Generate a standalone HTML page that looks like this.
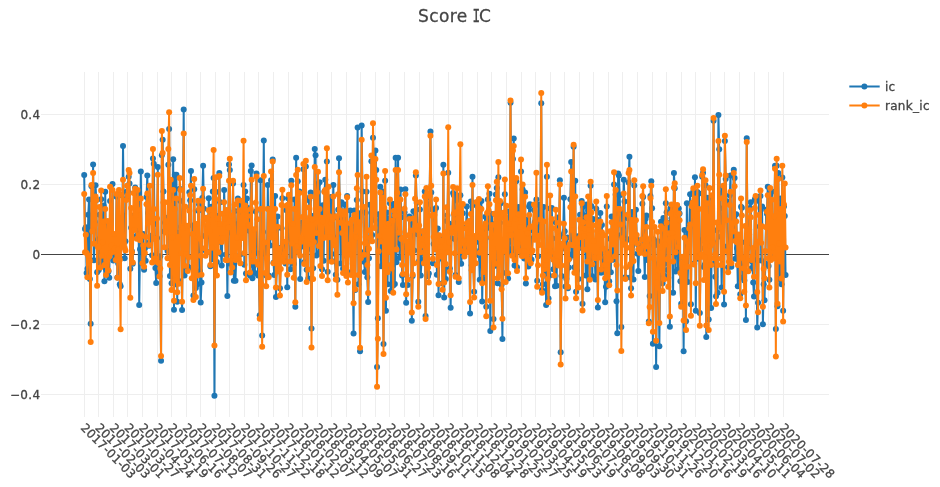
<!DOCTYPE html>
<html lang="en">
<head>
<meta charset="utf-8">
<title>Score IC</title>
<style>
html,body{margin:0;padding:0;background:#fff;}
body{width:940px;height:487px;overflow:hidden;}
svg{display:block;}
text{font-family:"DejaVu Sans", "Liberation Sans", sans-serif;fill:#444;stroke:#444;stroke-width:0.3px;}
.g line{stroke:#eee;stroke-width:1;shape-rendering:crispEdges;}
.z{stroke:#444;stroke-width:1;shape-rendering:crispEdges;}
.l{fill:none;stroke-width:2;stroke-linejoin:round;}
.xt text{font-size:12px;letter-spacing:0.22px;}
.yt text{font-size:12px;text-anchor:end;letter-spacing:0.36px;}
.lg text{font-size:12px;letter-spacing:0.32px;}
.ti{font-size:17px;letter-spacing:0.42px;}
.ser{font-family:"DejaVu Sans Mono", "Liberation Mono", monospace;letter-spacing:0;}
</style>
</head>
<body>
<svg width="940" height="487" viewBox="0 0 940 487">
<rect width="940" height="487" fill="#fff"/>
<g class="g">
<line x1="84.5" x2="84.5" y1="72" y2="417"/>
<line x1="98.5" x2="98.5" y1="72" y2="417"/>
<line x1="113.5" x2="113.5" y1="72" y2="417"/>
<line x1="127.5" x2="127.5" y1="72" y2="417"/>
<line x1="142.5" x2="142.5" y1="72" y2="417"/>
<line x1="157.5" x2="157.5" y1="72" y2="417"/>
<line x1="171.5" x2="171.5" y1="72" y2="417"/>
<line x1="186.5" x2="186.5" y1="72" y2="417"/>
<line x1="200.5" x2="200.5" y1="72" y2="417"/>
<line x1="215.5" x2="215.5" y1="72" y2="417"/>
<line x1="229.5" x2="229.5" y1="72" y2="417"/>
<line x1="244.5" x2="244.5" y1="72" y2="417"/>
<line x1="258.5" x2="258.5" y1="72" y2="417"/>
<line x1="273.5" x2="273.5" y1="72" y2="417"/>
<line x1="288.5" x2="288.5" y1="72" y2="417"/>
<line x1="302.5" x2="302.5" y1="72" y2="417"/>
<line x1="317.5" x2="317.5" y1="72" y2="417"/>
<line x1="331.5" x2="331.5" y1="72" y2="417"/>
<line x1="346.5" x2="346.5" y1="72" y2="417"/>
<line x1="360.5" x2="360.5" y1="72" y2="417"/>
<line x1="375.5" x2="375.5" y1="72" y2="417"/>
<line x1="389.5" x2="389.5" y1="72" y2="417"/>
<line x1="404.5" x2="404.5" y1="72" y2="417"/>
<line x1="419.5" x2="419.5" y1="72" y2="417"/>
<line x1="433.5" x2="433.5" y1="72" y2="417"/>
<line x1="448.5" x2="448.5" y1="72" y2="417"/>
<line x1="462.5" x2="462.5" y1="72" y2="417"/>
<line x1="477.5" x2="477.5" y1="72" y2="417"/>
<line x1="491.5" x2="491.5" y1="72" y2="417"/>
<line x1="506.5" x2="506.5" y1="72" y2="417"/>
<line x1="521.5" x2="521.5" y1="72" y2="417"/>
<line x1="535.5" x2="535.5" y1="72" y2="417"/>
<line x1="550.5" x2="550.5" y1="72" y2="417"/>
<line x1="564.5" x2="564.5" y1="72" y2="417"/>
<line x1="579.5" x2="579.5" y1="72" y2="417"/>
<line x1="593.5" x2="593.5" y1="72" y2="417"/>
<line x1="608.5" x2="608.5" y1="72" y2="417"/>
<line x1="622.5" x2="622.5" y1="72" y2="417"/>
<line x1="637.5" x2="637.5" y1="72" y2="417"/>
<line x1="652.5" x2="652.5" y1="72" y2="417"/>
<line x1="666.5" x2="666.5" y1="72" y2="417"/>
<line x1="681.5" x2="681.5" y1="72" y2="417"/>
<line x1="695.5" x2="695.5" y1="72" y2="417"/>
<line x1="710.5" x2="710.5" y1="72" y2="417"/>
<line x1="724.5" x2="724.5" y1="72" y2="417"/>
<line x1="739.5" x2="739.5" y1="72" y2="417"/>
<line x1="754.5" x2="754.5" y1="72" y2="417"/>
<line x1="768.5" x2="768.5" y1="72" y2="417"/>
<line x1="783.5" x2="783.5" y1="72" y2="417"/>
<line x1="41" x2="829" y1="114.5" y2="114.5"/>
<line x1="41" x2="829" y1="184.5" y2="184.5"/>
<line x1="41" x2="829" y1="324.5" y2="324.5"/>
<line x1="41" x2="829" y1="394.5" y2="394.5"/>
</g>
<line class="z" x1="41" x2="829" y1="254.5" y2="254.5"/>
<g class="trace">
<path class="l" stroke="#1f77b4" d="M84.2,175.05L85.01,228.89L85.82,227.34L86.63,273.04L87.44,268.72L88.24,214.74L89.05,199.41L89.86,278.95L90.67,323.81L91.48,186.33L92.29,226.65L93.1,164.46L93.91,260.25L94.72,221.97L95.53,185.27L96.33,200.01L97.14,272.19L97.95,239.49L98.76,270.08L99.57,214.77L100.38,250.95L101.19,199.26L102,263.34L102.81,252.74L103.61,205.41L104.42,281.22L105.23,191.74L106.04,269.18L106.85,271.58L107.66,223.46L108.47,271.58L109.28,277.81L110.09,201.12L110.9,239.56L111.7,253.02L112.51,184.08L113.32,260.52L114.13,241.15L114.94,250.56L115.75,256.38L116.56,196.86L117.37,277.47L118.18,263.41L118.98,195.57L119.79,284.25L120.6,286.33L121.41,229.51L122.22,238.46L123.03,145.89L123.84,215.76L124.65,258.23L125.46,241.31L126.27,191.89L127.07,198.44L127.88,191.5L128.69,176.82L129.5,183.6L130.31,268.78L131.12,227.73L131.93,251.37L132.74,263.64L133.55,215.86L134.35,228L135.16,187.48L135.97,221.27L136.78,235.83L137.59,199.19L138.4,193.54L139.21,304.9L140.02,249.19L140.83,171.44L141.64,247.12L142.44,263.24L143.25,234.12L144.06,269.63L144.87,248.56L145.68,260.78L146.49,196.95L147.3,175.56L148.11,213.16L148.92,245.86L149.72,242.04L150.53,235.66L151.34,239.09L152.15,255.16L152.96,158.5L153.77,163.78L154.58,223.92L155.39,267.93L156.2,282.92L157,238.06L157.81,167.01L158.62,271.21L159.43,275.99L160.24,256.26L161.05,360.81L161.86,155.26L162.67,139.75L163.48,191.5L164.29,231.5L165.09,222.49L165.9,217.65L166.71,226.69L167.52,250.97L168.33,164.63L169.14,129.02L169.95,275.94L170.76,179.96L171.57,283.17L172.37,256.27L173.18,159.35L173.99,309.67L174.8,174.7L175.61,284.25L176.42,174.7L177.23,301.66L178.04,232.85L178.85,281.02L179.66,188.71L180.46,200.99L181.27,226.79L182.08,310.01L182.89,220.7L183.7,109.42L184.51,275.5L185.32,229.11L186.13,238.06L186.94,236.37L187.74,266.74L188.55,267.5L189.36,192.18L190.17,200.59L190.98,170.93L191.79,267.81L192.6,225.51L193.41,295.53L194.22,189.19L195.03,246.59L195.83,287.98L196.64,238.09L197.45,284.25L198.26,210.75L199.07,204.52L199.88,271.24L200.69,302.52L201.5,282.41L202.31,198.02L203.11,165.82L203.92,208.78L204.73,235.89L205.54,250.56L206.35,234.45L207.16,252.17L207.97,226.47L208.78,198.22L209.59,235.9L210.4,266.22L211.2,206.7L212.01,259.25L212.82,191.5L213.63,178.11L214.44,395.74L215.25,191.5L216.06,191.92L216.87,261.9L217.68,215.99L218.48,241.96L219.29,172.98L220.1,202.25L220.91,253.97L221.72,265.55L222.53,226.73L223.34,234.22L224.15,190.04L224.96,219.49L225.77,254.78L226.57,225.34L227.38,296.04L228.19,230.31L229,164.46L229.81,170.03L230.62,264.02L231.43,232.33L232.24,233.81L233.05,183.53L233.85,280.71L234.66,210.89L235.47,280.71L236.28,256.43L237.09,224.26L237.9,198.56L238.71,245.17L239.52,204.1L240.33,254.54L241.14,235.76L241.94,201.49L242.75,220.4L243.56,184.93L244.37,264.78L245.18,191.5L245.99,273.55L246.8,198.5L247.61,207.93L248.42,213.4L249.22,230.83L250.03,275.5L250.84,170.93L251.65,165.48L252.46,278.15L253.27,265.32L254.08,240.66L254.89,273.04L255.7,211.39L256.51,173.49L257.31,253.13L258.12,275.44L258.93,273.62L259.74,315.29L260.55,180.16L261.36,284.25L262.17,335.57L262.98,231.94L263.79,140.6L264.59,253.73L265.4,245.31L266.21,275.42L267.02,254.11L267.83,184.93L268.64,275.5L269.45,208.76L270.26,245.45L271.07,180.14L271.88,220.45L272.68,159.52L273.49,262.63L274.3,274.91L275.11,196L275.92,296.89L276.73,268.78L277.54,216.45L278.35,247.91L279.16,248.32L279.96,288.19L280.77,256.27L281.58,228.35L282.39,198.23L283.2,244.79L284.01,249.94L284.82,244.03L285.63,263.55L286.44,210.23L287.25,287.18L288.05,198.31L288.86,197.71L289.67,234.89L290.48,269.29L291.29,180.67L292.1,255.67L292.91,232.73L293.72,264.06L294.53,199.41L295.33,306.78L296.14,157.64L296.95,234.81L297.76,181.29L298.57,252.17L299.38,191.5L300.19,279L301,246.78L301.81,227.85L302.62,222.56L303.42,169.18L304.23,262.2L305.04,196.97L305.85,166.62L306.66,269.63L307.47,227.54L308.28,278.57L309.09,200.35L309.9,248.87L310.7,192.59L311.51,328.41L312.32,215.93L313.13,268.27L313.94,237.55L314.75,148.95L315.56,155.26L316.37,255.43L317.18,191.78L317.98,183.99L318.79,253.11L319.6,182.37L320.41,253.95L321.22,211.34L322.03,269.29L322.84,205.37L323.65,260.86L324.46,191.5L325.27,179.82L326.07,236.27L326.88,161.56L327.69,271.86L328.5,201.96L329.31,224.46L330.12,258.13L330.93,196.88L331.74,254.05L332.55,213.29L333.35,184.93L334.16,237.42L334.97,261.34L335.78,274.72L336.59,217.12L337.4,279.85L338.21,209.66L339.02,158.33L339.83,215.26L340.64,263.39L341.44,202.28L342.25,218.9L343.06,268.86L343.87,214.84L344.68,204.52L345.49,240.45L346.3,255.95L347.11,196L347.92,274.44L348.72,241.24L349.53,226.76L350.34,210.49L351.15,272L351.96,229.38L352.77,263.65L353.58,333.53L354.39,210.4L355.2,290.08L356.01,225.46L356.81,199.92L357.62,127.49L358.43,284.25L359.24,213.19L360.05,351.27L360.86,251.92L361.67,125.44L362.48,191.5L363.29,210.41L364.09,261.63L364.9,272.1L365.71,212.81L366.52,191.74L367.33,277.3L368.14,302L368.95,258.37L369.76,204.72L370.57,237.69L371.38,161.22L372.18,234.9L372.99,137.71L373.8,172.58L374.61,220.01L375.42,150.49L376.23,170.08L377.04,367.11L377.85,318.36L378.66,214.32L379.46,251.42L380.27,186.63L381.08,266.23L381.89,211.61L382.7,191.5L383.51,344.11L384.32,210.41L385.13,180.67L385.94,310.86L386.75,212.57L387.55,284.25L388.36,218.15L389.17,240.26L389.98,203.16L390.79,290.93L391.6,284.25L392.41,203.78L393.22,285.46L394.03,207.93L394.83,284.11L395.64,157.64L396.45,262.17L397.26,204.31L398.07,157.64L398.88,242.86L399.69,257.7L400.5,189.53L401.31,217.34L402.12,275.59L402.92,284.97L403.73,246.76L404.54,212.19L405.35,189.19L406.16,302.86L406.97,242L407.78,284.97L408.59,247.39L409.4,216.45L410.2,242.55L411.01,222.75L411.82,320.75L412.63,276L413.44,211.35L414.25,250.59L415.06,219.62L415.87,175.56L416.68,202.67L417.49,234.23L418.29,301.66L419.1,260.99L419.91,209.38L420.72,275.5L421.53,260.53L422.34,231.6L423.15,242.98L423.96,259.82L424.77,191.5L425.57,315.98L426.38,198.23L427.19,203.97L428,276.18L428.81,273.58L429.62,195.92L430.43,131.4L431.24,192.54L432.05,209.36L432.86,263.34L433.66,243.97L434.47,211.84L435.28,236.82L436.09,207.93L436.9,274.74L437.71,228.38L438.52,295.19L439.33,253.83L440.14,237.7L440.94,256.49L441.75,258.66L442.56,283.28L443.37,164.63L444.18,297.4L444.99,236.25L445.8,278.91L446.61,221.05L447.42,215.36L448.23,172.64L449.03,223.48L449.84,268.61L450.65,307.63L451.46,238.24L452.27,228.04L453.08,193.11L453.89,195.15L454.7,239.02L455.51,275.06L456.31,200.52L457.12,197.21L457.93,212.17L458.74,281.9L459.55,216.33L460.36,195.15L461.17,263.84L461.98,253.02L462.79,213.32L463.59,253.02L464.4,246.18L465.21,250L466.02,227.61L466.83,206.57L467.64,239.8L468.45,239.74L469.26,232.84L470.07,313.42L470.88,201.62L471.68,265.19L472.49,176.75L473.3,263.87L474.11,291.78L474.92,250.25L475.73,253.99L476.54,205.54L477.35,241.83L478.16,202.4L478.96,255.33L479.77,279.76L480.58,208.47L481.39,201.11L482.2,301.49L483.01,249.82L483.82,279.76L484.63,233.14L485.44,216.71L486.25,306.78L487.05,219.84L487.86,199.52L488.67,227.72L489.48,193.79L490.29,330.97L491.1,238.04L491.91,213.89L492.72,247.45L493.53,319.04L494.33,224.08L495.14,265.63L495.95,194.44L496.76,187.99L497.57,283.26L498.38,177.26L499.19,260.86L500,222.74L500.81,203.22L501.62,284.77L502.42,338.98L503.23,239.64L504.04,248.51L504.85,194.3L505.66,273.04L506.47,221.52L507.28,218.15L508.09,278.4L508.9,211.58L509.7,252.17L510.51,102.78L511.32,237.9L512.13,248.82L512.94,159.01L513.75,138.56L514.56,265.55L515.37,250.79L516.18,181.22L516.99,267.37L517.79,227.81L518.6,206.91L519.41,232L520.22,247.69L521.03,171.44L521.84,252.12L522.65,189.41L523.46,253.08L524.27,258.5L525.07,192.59L525.88,283.6L526.69,219.97L527.5,219.45L528.31,266.56L529.12,206.57L529.93,204.19L530.74,259.3L531.55,259.84L532.36,238.85L533.16,230.42L533.97,209.89L534.78,222.35L535.59,236.39L536.4,199.41L537.21,280.71L538.02,256.24L538.83,204.85L539.64,226.91L540.44,206.23L541.25,103.29L542.06,289.92L542.87,284.25L543.68,206.89L544.49,275.5L545.3,254.83L546.11,305.07L546.92,176.75L547.73,272.44L548.53,298.55L549.34,275.64L550.15,208.42L550.96,254.24L551.77,207.93L552.58,238.5L553.39,269.34L554.2,259.02L555.01,286.33L555.81,222.41L556.62,285.82L557.43,217.39L558.24,243.63L559.05,233.67L559.86,180.16L560.67,352.29L561.48,275.91L562.29,248.55L563.1,236.79L563.9,197.71L564.71,231.2L565.52,286.46L566.33,278.81L567.14,237.41L567.95,288.37L568.76,267.59L569.57,258.23L570.38,199.22L571.18,162.07L571.99,254.24L572.8,255.34L573.61,146.74L574.42,267.17L575.23,180.67L576.04,291.78L576.85,270.46L577.66,236.18L578.47,279.1L579.27,245.17L580.08,214.69L580.89,247.83L581.7,201.11L582.51,303.78L583.32,206.83L584.13,215.5L584.94,232.12L585.75,275.5L586.55,204.52L587.36,289.23L588.17,210.52L588.98,218.4L589.79,278.4L590.6,185.78L591.41,206.23L592.22,276.35L593.03,218.92L593.84,256.92L594.64,251.2L595.45,279.49L596.26,208.82L597.07,219.75L597.88,307.46L598.69,225.06L599.5,255.01L600.31,213.04L601.12,272.78L601.92,225.06L602.73,271.82L603.54,267.58L604.35,258.13L605.16,302.35L605.97,286.67L606.78,206.4L607.59,281.81L608.4,252.03L609.2,281.13L610.01,238.84L610.82,272.19L611.63,216.39L612.44,237.75L613.25,259.69L614.06,184.59L614.87,215.91L615.68,194.61L616.49,301.15L617.29,333.19L618.1,173.49L618.91,175.56L619.72,195.15L620.53,235.13L621.34,327.05L622.15,212.7L622.96,227.28L623.77,179.82L624.57,201.43L625.38,277.16L626.19,240.55L627,239.12L627.81,218.19L628.62,182.61L629.43,156.79L630.24,277.6L631.05,288.35L631.86,211.94L632.66,245.46L633.47,279.51L634.28,185.48L635.09,234.65L635.9,209.63L636.71,238.81L637.52,253.62L638.33,271L639.14,249.61L639.94,245.38L640.75,249.61L641.56,249.61L642.37,203.67L643.18,196.89L643.99,250.47L644.8,276.97L645.61,218.65L646.42,215.6L647.23,259.88L648.03,242.42L648.84,321.39L649.65,295.91L650.46,196L651.27,181.18L652.08,208.36L652.89,343.77L653.7,239.31L654.51,245.41L655.31,265.94L656.12,367.11L656.93,284.25L657.74,241.15L658.55,264.11L659.36,346.16L660.17,254.61L660.98,221.75L661.79,267.26L662.6,283.13L663.4,217.95L664.21,275.24L665.02,263.21L665.83,203.33L666.64,212.22L667.45,269.96L668.26,277.63L669.07,222.86L669.88,326.71L670.68,208.02L671.49,218.23L672.3,214.64L673.11,292.63L673.92,172.98L674.73,188.24L675.54,271.4L676.35,220.91L677.16,209.47L677.97,269.54L678.77,208.53L679.58,213.55L680.39,281.22L681.2,303.84L682.01,280.98L682.82,256.88L683.63,351.27L684.44,229.93L685.25,261.74L686.05,321.13L686.86,203.33L687.67,281.91L688.48,241.61L689.29,227.96L690.1,194.3L690.91,304.23L691.72,203.79L692.53,204.26L693.34,191.26L694.14,263.51L694.95,177.26L695.76,310.86L696.57,231.89L697.38,192.05L698.19,258.85L699,193.45L699.81,313.08L700.62,248.13L701.42,240.2L702.23,176.71L703.04,172.83L703.85,267.02L704.66,264.67L705.47,185.34L706.28,336.93L707.09,197.86L707.9,240.55L708.71,319.38L709.51,197.67L710.32,236.12L711.13,307.97L711.94,196.91L712.75,241.78L713.56,120.67L714.37,263.73L715.18,276.83L715.99,296.16L716.79,230.35L717.6,292.63L718.41,115.05L719.22,149.29L720.03,208.19L720.84,236.84L721.65,287.52L722.46,192.82L723.27,187.93L724.08,304.56L724.88,141.12L725.69,178.95L726.5,201.22L727.31,246.15L728.12,267.35L728.93,253.05L729.74,195.24L730.55,175.56L731.36,266.74L732.16,224.85L732.97,236.43L733.78,169.74L734.59,178.11L735.4,258.67L736.21,214.26L737.02,248.24L737.83,286.33L738.64,258.89L739.45,250.99L740.25,294.34L741.06,206.65L741.87,207.72L742.68,277.46L743.49,266.87L744.3,280.58L745.11,242.23L745.92,319.9L746.73,138.22L747.53,246.89L748.34,260.61L749.15,229.85L749.96,207.93L750.77,202.31L751.58,268.13L752.39,261.43L753.2,282.41L754.01,296.38L754.81,199.5L755.62,197.64L756.43,259.45L757.24,327.56L758.05,302.69L758.86,201.12L759.67,226.57L760.48,196L761.29,260.54L762.1,206.45L762.9,324.15L763.71,284.25L764.52,300.3L765.33,263.51L766.14,209.63L766.95,213.87L767.76,186.63L768.57,266.09L769.38,279.85L770.18,194.3L770.99,242.49L771.8,191.5L772.61,254.38L773.42,255.43L774.23,228.19L775.04,165.82L775.85,328.93L776.66,165.77L777.47,306.26L778.27,172.98L779.08,238.26L779.89,279L780.7,198.56L781.51,284.25L782.32,177.58L783.13,310.86L783.94,206.45L784.75,216.11L785.55,275.01"/>
<g fill="#1f77b4">
<circle cx="84.2" cy="175.05" r="3"/><circle cx="85.01" cy="228.89" r="3"/><circle cx="85.82" cy="227.34" r="3"/><circle cx="86.63" cy="273.04" r="3"/><circle cx="87.44" cy="268.72" r="3"/><circle cx="88.24" cy="214.74" r="3"/><circle cx="89.05" cy="199.41" r="3"/><circle cx="89.86" cy="278.95" r="3"/>
<circle cx="90.67" cy="323.81" r="3"/><circle cx="91.48" cy="186.33" r="3"/><circle cx="92.29" cy="226.65" r="3"/><circle cx="93.1" cy="164.46" r="3"/><circle cx="93.91" cy="260.25" r="3"/><circle cx="94.72" cy="221.97" r="3"/><circle cx="95.53" cy="185.27" r="3"/><circle cx="96.33" cy="200.01" r="3"/>
<circle cx="97.14" cy="272.19" r="3"/><circle cx="97.95" cy="239.49" r="3"/><circle cx="98.76" cy="270.08" r="3"/><circle cx="99.57" cy="214.77" r="3"/><circle cx="100.38" cy="250.95" r="3"/><circle cx="101.19" cy="199.26" r="3"/><circle cx="102" cy="263.34" r="3"/><circle cx="102.81" cy="252.74" r="3"/>
<circle cx="103.61" cy="205.41" r="3"/><circle cx="104.42" cy="281.22" r="3"/><circle cx="105.23" cy="191.74" r="3"/><circle cx="106.04" cy="269.18" r="3"/><circle cx="106.85" cy="271.58" r="3"/><circle cx="107.66" cy="223.46" r="3"/><circle cx="108.47" cy="271.58" r="3"/><circle cx="109.28" cy="277.81" r="3"/>
<circle cx="110.09" cy="201.12" r="3"/><circle cx="110.9" cy="239.56" r="3"/><circle cx="111.7" cy="253.02" r="3"/><circle cx="112.51" cy="184.08" r="3"/><circle cx="113.32" cy="260.52" r="3"/><circle cx="114.13" cy="241.15" r="3"/><circle cx="114.94" cy="250.56" r="3"/><circle cx="115.75" cy="256.38" r="3"/>
<circle cx="116.56" cy="196.86" r="3"/><circle cx="117.37" cy="277.47" r="3"/><circle cx="118.18" cy="263.41" r="3"/><circle cx="118.98" cy="195.57" r="3"/><circle cx="119.79" cy="284.25" r="3"/><circle cx="120.6" cy="286.33" r="3"/><circle cx="121.41" cy="229.51" r="3"/><circle cx="122.22" cy="238.46" r="3"/>
<circle cx="123.03" cy="145.89" r="3"/><circle cx="123.84" cy="215.76" r="3"/><circle cx="124.65" cy="258.23" r="3"/><circle cx="125.46" cy="241.31" r="3"/><circle cx="126.27" cy="191.89" r="3"/><circle cx="127.07" cy="198.44" r="3"/><circle cx="127.88" cy="191.5" r="3"/><circle cx="128.69" cy="176.82" r="3"/>
<circle cx="129.5" cy="183.6" r="3"/><circle cx="130.31" cy="268.78" r="3"/><circle cx="131.12" cy="227.73" r="3"/><circle cx="131.93" cy="251.37" r="3"/><circle cx="132.74" cy="263.64" r="3"/><circle cx="133.55" cy="215.86" r="3"/><circle cx="134.35" cy="228" r="3"/><circle cx="135.16" cy="187.48" r="3"/>
<circle cx="135.97" cy="221.27" r="3"/><circle cx="136.78" cy="235.83" r="3"/><circle cx="137.59" cy="199.19" r="3"/><circle cx="138.4" cy="193.54" r="3"/><circle cx="139.21" cy="304.9" r="3"/><circle cx="140.02" cy="249.19" r="3"/><circle cx="140.83" cy="171.44" r="3"/><circle cx="141.64" cy="247.12" r="3"/>
<circle cx="142.44" cy="263.24" r="3"/><circle cx="143.25" cy="234.12" r="3"/><circle cx="144.06" cy="269.63" r="3"/><circle cx="144.87" cy="248.56" r="3"/><circle cx="145.68" cy="260.78" r="3"/><circle cx="146.49" cy="196.95" r="3"/><circle cx="147.3" cy="175.56" r="3"/><circle cx="148.11" cy="213.16" r="3"/>
<circle cx="148.92" cy="245.86" r="3"/><circle cx="149.72" cy="242.04" r="3"/><circle cx="150.53" cy="235.66" r="3"/><circle cx="151.34" cy="239.09" r="3"/><circle cx="152.15" cy="255.16" r="3"/><circle cx="152.96" cy="158.5" r="3"/><circle cx="153.77" cy="163.78" r="3"/><circle cx="154.58" cy="223.92" r="3"/>
<circle cx="155.39" cy="267.93" r="3"/><circle cx="156.2" cy="282.92" r="3"/><circle cx="157" cy="238.06" r="3"/><circle cx="157.81" cy="167.01" r="3"/><circle cx="158.62" cy="271.21" r="3"/><circle cx="159.43" cy="275.99" r="3"/><circle cx="160.24" cy="256.26" r="3"/><circle cx="161.05" cy="360.81" r="3"/>
<circle cx="161.86" cy="155.26" r="3"/><circle cx="162.67" cy="139.75" r="3"/><circle cx="163.48" cy="191.5" r="3"/><circle cx="164.29" cy="231.5" r="3"/><circle cx="165.09" cy="222.49" r="3"/><circle cx="165.9" cy="217.65" r="3"/><circle cx="166.71" cy="226.69" r="3"/><circle cx="167.52" cy="250.97" r="3"/>
<circle cx="168.33" cy="164.63" r="3"/><circle cx="169.14" cy="129.02" r="3"/><circle cx="169.95" cy="275.94" r="3"/><circle cx="170.76" cy="179.96" r="3"/><circle cx="171.57" cy="283.17" r="3"/><circle cx="172.37" cy="256.27" r="3"/><circle cx="173.18" cy="159.35" r="3"/><circle cx="173.99" cy="309.67" r="3"/>
<circle cx="174.8" cy="174.7" r="3"/><circle cx="175.61" cy="284.25" r="3"/><circle cx="176.42" cy="174.7" r="3"/><circle cx="177.23" cy="301.66" r="3"/><circle cx="178.04" cy="232.85" r="3"/><circle cx="178.85" cy="281.02" r="3"/><circle cx="179.66" cy="188.71" r="3"/><circle cx="180.46" cy="200.99" r="3"/>
<circle cx="181.27" cy="226.79" r="3"/><circle cx="182.08" cy="310.01" r="3"/><circle cx="182.89" cy="220.7" r="3"/><circle cx="183.7" cy="109.42" r="3"/><circle cx="184.51" cy="275.5" r="3"/><circle cx="185.32" cy="229.11" r="3"/><circle cx="186.13" cy="238.06" r="3"/><circle cx="186.94" cy="236.37" r="3"/>
<circle cx="187.74" cy="266.74" r="3"/><circle cx="188.55" cy="267.5" r="3"/><circle cx="189.36" cy="192.18" r="3"/><circle cx="190.17" cy="200.59" r="3"/><circle cx="190.98" cy="170.93" r="3"/><circle cx="191.79" cy="267.81" r="3"/><circle cx="192.6" cy="225.51" r="3"/><circle cx="193.41" cy="295.53" r="3"/>
<circle cx="194.22" cy="189.19" r="3"/><circle cx="195.03" cy="246.59" r="3"/><circle cx="195.83" cy="287.98" r="3"/><circle cx="196.64" cy="238.09" r="3"/><circle cx="197.45" cy="284.25" r="3"/><circle cx="198.26" cy="210.75" r="3"/><circle cx="199.07" cy="204.52" r="3"/><circle cx="199.88" cy="271.24" r="3"/>
<circle cx="200.69" cy="302.52" r="3"/><circle cx="201.5" cy="282.41" r="3"/><circle cx="202.31" cy="198.02" r="3"/><circle cx="203.11" cy="165.82" r="3"/><circle cx="203.92" cy="208.78" r="3"/><circle cx="204.73" cy="235.89" r="3"/><circle cx="205.54" cy="250.56" r="3"/><circle cx="206.35" cy="234.45" r="3"/>
<circle cx="207.16" cy="252.17" r="3"/><circle cx="207.97" cy="226.47" r="3"/><circle cx="208.78" cy="198.22" r="3"/><circle cx="209.59" cy="235.9" r="3"/><circle cx="210.4" cy="266.22" r="3"/><circle cx="211.2" cy="206.7" r="3"/><circle cx="212.01" cy="259.25" r="3"/><circle cx="212.82" cy="191.5" r="3"/>
<circle cx="213.63" cy="178.11" r="3"/><circle cx="214.44" cy="395.74" r="3"/><circle cx="215.25" cy="191.5" r="3"/><circle cx="216.06" cy="191.92" r="3"/><circle cx="216.87" cy="261.9" r="3"/><circle cx="217.68" cy="215.99" r="3"/><circle cx="218.48" cy="241.96" r="3"/><circle cx="219.29" cy="172.98" r="3"/>
<circle cx="220.1" cy="202.25" r="3"/><circle cx="220.91" cy="253.97" r="3"/><circle cx="221.72" cy="265.55" r="3"/><circle cx="222.53" cy="226.73" r="3"/><circle cx="223.34" cy="234.22" r="3"/><circle cx="224.15" cy="190.04" r="3"/><circle cx="224.96" cy="219.49" r="3"/><circle cx="225.77" cy="254.78" r="3"/>
<circle cx="226.57" cy="225.34" r="3"/><circle cx="227.38" cy="296.04" r="3"/><circle cx="228.19" cy="230.31" r="3"/><circle cx="229" cy="164.46" r="3"/><circle cx="229.81" cy="170.03" r="3"/><circle cx="230.62" cy="264.02" r="3"/><circle cx="231.43" cy="232.33" r="3"/><circle cx="232.24" cy="233.81" r="3"/>
<circle cx="233.05" cy="183.53" r="3"/><circle cx="233.85" cy="280.71" r="3"/><circle cx="234.66" cy="210.89" r="3"/><circle cx="235.47" cy="280.71" r="3"/><circle cx="236.28" cy="256.43" r="3"/><circle cx="237.09" cy="224.26" r="3"/><circle cx="237.9" cy="198.56" r="3"/><circle cx="238.71" cy="245.17" r="3"/>
<circle cx="239.52" cy="204.1" r="3"/><circle cx="240.33" cy="254.54" r="3"/><circle cx="241.14" cy="235.76" r="3"/><circle cx="241.94" cy="201.49" r="3"/><circle cx="242.75" cy="220.4" r="3"/><circle cx="243.56" cy="184.93" r="3"/><circle cx="244.37" cy="264.78" r="3"/><circle cx="245.18" cy="191.5" r="3"/>
<circle cx="245.99" cy="273.55" r="3"/><circle cx="246.8" cy="198.5" r="3"/><circle cx="247.61" cy="207.93" r="3"/><circle cx="248.42" cy="213.4" r="3"/><circle cx="249.22" cy="230.83" r="3"/><circle cx="250.03" cy="275.5" r="3"/><circle cx="250.84" cy="170.93" r="3"/><circle cx="251.65" cy="165.48" r="3"/>
<circle cx="252.46" cy="278.15" r="3"/><circle cx="253.27" cy="265.32" r="3"/><circle cx="254.08" cy="240.66" r="3"/><circle cx="254.89" cy="273.04" r="3"/><circle cx="255.7" cy="211.39" r="3"/><circle cx="256.51" cy="173.49" r="3"/><circle cx="257.31" cy="253.13" r="3"/><circle cx="258.12" cy="275.44" r="3"/>
<circle cx="258.93" cy="273.62" r="3"/><circle cx="259.74" cy="315.29" r="3"/><circle cx="260.55" cy="180.16" r="3"/><circle cx="261.36" cy="284.25" r="3"/><circle cx="262.17" cy="335.57" r="3"/><circle cx="262.98" cy="231.94" r="3"/><circle cx="263.79" cy="140.6" r="3"/><circle cx="264.59" cy="253.73" r="3"/>
<circle cx="265.4" cy="245.31" r="3"/><circle cx="266.21" cy="275.42" r="3"/><circle cx="267.02" cy="254.11" r="3"/><circle cx="267.83" cy="184.93" r="3"/><circle cx="268.64" cy="275.5" r="3"/><circle cx="269.45" cy="208.76" r="3"/><circle cx="270.26" cy="245.45" r="3"/><circle cx="271.07" cy="180.14" r="3"/>
<circle cx="271.88" cy="220.45" r="3"/><circle cx="272.68" cy="159.52" r="3"/><circle cx="273.49" cy="262.63" r="3"/><circle cx="274.3" cy="274.91" r="3"/><circle cx="275.11" cy="196" r="3"/><circle cx="275.92" cy="296.89" r="3"/><circle cx="276.73" cy="268.78" r="3"/><circle cx="277.54" cy="216.45" r="3"/>
<circle cx="278.35" cy="247.91" r="3"/><circle cx="279.16" cy="248.32" r="3"/><circle cx="279.96" cy="288.19" r="3"/><circle cx="280.77" cy="256.27" r="3"/><circle cx="281.58" cy="228.35" r="3"/><circle cx="282.39" cy="198.23" r="3"/><circle cx="283.2" cy="244.79" r="3"/><circle cx="284.01" cy="249.94" r="3"/>
<circle cx="284.82" cy="244.03" r="3"/><circle cx="285.63" cy="263.55" r="3"/><circle cx="286.44" cy="210.23" r="3"/><circle cx="287.25" cy="287.18" r="3"/><circle cx="288.05" cy="198.31" r="3"/><circle cx="288.86" cy="197.71" r="3"/><circle cx="289.67" cy="234.89" r="3"/><circle cx="290.48" cy="269.29" r="3"/>
<circle cx="291.29" cy="180.67" r="3"/><circle cx="292.1" cy="255.67" r="3"/><circle cx="292.91" cy="232.73" r="3"/><circle cx="293.72" cy="264.06" r="3"/><circle cx="294.53" cy="199.41" r="3"/><circle cx="295.33" cy="306.78" r="3"/><circle cx="296.14" cy="157.64" r="3"/><circle cx="296.95" cy="234.81" r="3"/>
<circle cx="297.76" cy="181.29" r="3"/><circle cx="298.57" cy="252.17" r="3"/><circle cx="299.38" cy="191.5" r="3"/><circle cx="300.19" cy="279" r="3"/><circle cx="301" cy="246.78" r="3"/><circle cx="301.81" cy="227.85" r="3"/><circle cx="302.62" cy="222.56" r="3"/><circle cx="303.42" cy="169.18" r="3"/>
<circle cx="304.23" cy="262.2" r="3"/><circle cx="305.04" cy="196.97" r="3"/><circle cx="305.85" cy="166.62" r="3"/><circle cx="306.66" cy="269.63" r="3"/><circle cx="307.47" cy="227.54" r="3"/><circle cx="308.28" cy="278.57" r="3"/><circle cx="309.09" cy="200.35" r="3"/><circle cx="309.9" cy="248.87" r="3"/>
<circle cx="310.7" cy="192.59" r="3"/><circle cx="311.51" cy="328.41" r="3"/><circle cx="312.32" cy="215.93" r="3"/><circle cx="313.13" cy="268.27" r="3"/><circle cx="313.94" cy="237.55" r="3"/><circle cx="314.75" cy="148.95" r="3"/><circle cx="315.56" cy="155.26" r="3"/><circle cx="316.37" cy="255.43" r="3"/>
<circle cx="317.18" cy="191.78" r="3"/><circle cx="317.98" cy="183.99" r="3"/><circle cx="318.79" cy="253.11" r="3"/><circle cx="319.6" cy="182.37" r="3"/><circle cx="320.41" cy="253.95" r="3"/><circle cx="321.22" cy="211.34" r="3"/><circle cx="322.03" cy="269.29" r="3"/><circle cx="322.84" cy="205.37" r="3"/>
<circle cx="323.65" cy="260.86" r="3"/><circle cx="324.46" cy="191.5" r="3"/><circle cx="325.27" cy="179.82" r="3"/><circle cx="326.07" cy="236.27" r="3"/><circle cx="326.88" cy="161.56" r="3"/><circle cx="327.69" cy="271.86" r="3"/><circle cx="328.5" cy="201.96" r="3"/><circle cx="329.31" cy="224.46" r="3"/>
<circle cx="330.12" cy="258.13" r="3"/><circle cx="330.93" cy="196.88" r="3"/><circle cx="331.74" cy="254.05" r="3"/><circle cx="332.55" cy="213.29" r="3"/><circle cx="333.35" cy="184.93" r="3"/><circle cx="334.16" cy="237.42" r="3"/><circle cx="334.97" cy="261.34" r="3"/><circle cx="335.78" cy="274.72" r="3"/>
<circle cx="336.59" cy="217.12" r="3"/><circle cx="337.4" cy="279.85" r="3"/><circle cx="338.21" cy="209.66" r="3"/><circle cx="339.02" cy="158.33" r="3"/><circle cx="339.83" cy="215.26" r="3"/><circle cx="340.64" cy="263.39" r="3"/><circle cx="341.44" cy="202.28" r="3"/><circle cx="342.25" cy="218.9" r="3"/>
<circle cx="343.06" cy="268.86" r="3"/><circle cx="343.87" cy="214.84" r="3"/><circle cx="344.68" cy="204.52" r="3"/><circle cx="345.49" cy="240.45" r="3"/><circle cx="346.3" cy="255.95" r="3"/><circle cx="347.11" cy="196" r="3"/><circle cx="347.92" cy="274.44" r="3"/><circle cx="348.72" cy="241.24" r="3"/>
<circle cx="349.53" cy="226.76" r="3"/><circle cx="350.34" cy="210.49" r="3"/><circle cx="351.15" cy="272" r="3"/><circle cx="351.96" cy="229.38" r="3"/><circle cx="352.77" cy="263.65" r="3"/><circle cx="353.58" cy="333.53" r="3"/><circle cx="354.39" cy="210.4" r="3"/><circle cx="355.2" cy="290.08" r="3"/>
<circle cx="356.01" cy="225.46" r="3"/><circle cx="356.81" cy="199.92" r="3"/><circle cx="357.62" cy="127.49" r="3"/><circle cx="358.43" cy="284.25" r="3"/><circle cx="359.24" cy="213.19" r="3"/><circle cx="360.05" cy="351.27" r="3"/><circle cx="360.86" cy="251.92" r="3"/><circle cx="361.67" cy="125.44" r="3"/>
<circle cx="362.48" cy="191.5" r="3"/><circle cx="363.29" cy="210.41" r="3"/><circle cx="364.09" cy="261.63" r="3"/><circle cx="364.9" cy="272.1" r="3"/><circle cx="365.71" cy="212.81" r="3"/><circle cx="366.52" cy="191.74" r="3"/><circle cx="367.33" cy="277.3" r="3"/><circle cx="368.14" cy="302" r="3"/>
<circle cx="368.95" cy="258.37" r="3"/><circle cx="369.76" cy="204.72" r="3"/><circle cx="370.57" cy="237.69" r="3"/><circle cx="371.38" cy="161.22" r="3"/><circle cx="372.18" cy="234.9" r="3"/><circle cx="372.99" cy="137.71" r="3"/><circle cx="373.8" cy="172.58" r="3"/><circle cx="374.61" cy="220.01" r="3"/>
<circle cx="375.42" cy="150.49" r="3"/><circle cx="376.23" cy="170.08" r="3"/><circle cx="377.04" cy="367.11" r="3"/><circle cx="377.85" cy="318.36" r="3"/><circle cx="378.66" cy="214.32" r="3"/><circle cx="379.46" cy="251.42" r="3"/><circle cx="380.27" cy="186.63" r="3"/><circle cx="381.08" cy="266.23" r="3"/>
<circle cx="381.89" cy="211.61" r="3"/><circle cx="382.7" cy="191.5" r="3"/><circle cx="383.51" cy="344.11" r="3"/><circle cx="384.32" cy="210.41" r="3"/><circle cx="385.13" cy="180.67" r="3"/><circle cx="385.94" cy="310.86" r="3"/><circle cx="386.75" cy="212.57" r="3"/><circle cx="387.55" cy="284.25" r="3"/>
<circle cx="388.36" cy="218.15" r="3"/><circle cx="389.17" cy="240.26" r="3"/><circle cx="389.98" cy="203.16" r="3"/><circle cx="390.79" cy="290.93" r="3"/><circle cx="391.6" cy="284.25" r="3"/><circle cx="392.41" cy="203.78" r="3"/><circle cx="393.22" cy="285.46" r="3"/><circle cx="394.03" cy="207.93" r="3"/>
<circle cx="394.83" cy="284.11" r="3"/><circle cx="395.64" cy="157.64" r="3"/><circle cx="396.45" cy="262.17" r="3"/><circle cx="397.26" cy="204.31" r="3"/><circle cx="398.07" cy="157.64" r="3"/><circle cx="398.88" cy="242.86" r="3"/><circle cx="399.69" cy="257.7" r="3"/><circle cx="400.5" cy="189.53" r="3"/>
<circle cx="401.31" cy="217.34" r="3"/><circle cx="402.12" cy="275.59" r="3"/><circle cx="402.92" cy="284.97" r="3"/><circle cx="403.73" cy="246.76" r="3"/><circle cx="404.54" cy="212.19" r="3"/><circle cx="405.35" cy="189.19" r="3"/><circle cx="406.16" cy="302.86" r="3"/><circle cx="406.97" cy="242" r="3"/>
<circle cx="407.78" cy="284.97" r="3"/><circle cx="408.59" cy="247.39" r="3"/><circle cx="409.4" cy="216.45" r="3"/><circle cx="410.2" cy="242.55" r="3"/><circle cx="411.01" cy="222.75" r="3"/><circle cx="411.82" cy="320.75" r="3"/><circle cx="412.63" cy="276" r="3"/><circle cx="413.44" cy="211.35" r="3"/>
<circle cx="414.25" cy="250.59" r="3"/><circle cx="415.06" cy="219.62" r="3"/><circle cx="415.87" cy="175.56" r="3"/><circle cx="416.68" cy="202.67" r="3"/><circle cx="417.49" cy="234.23" r="3"/><circle cx="418.29" cy="301.66" r="3"/><circle cx="419.1" cy="260.99" r="3"/><circle cx="419.91" cy="209.38" r="3"/>
<circle cx="420.72" cy="275.5" r="3"/><circle cx="421.53" cy="260.53" r="3"/><circle cx="422.34" cy="231.6" r="3"/><circle cx="423.15" cy="242.98" r="3"/><circle cx="423.96" cy="259.82" r="3"/><circle cx="424.77" cy="191.5" r="3"/><circle cx="425.57" cy="315.98" r="3"/><circle cx="426.38" cy="198.23" r="3"/>
<circle cx="427.19" cy="203.97" r="3"/><circle cx="428" cy="276.18" r="3"/><circle cx="428.81" cy="273.58" r="3"/><circle cx="429.62" cy="195.92" r="3"/><circle cx="430.43" cy="131.4" r="3"/><circle cx="431.24" cy="192.54" r="3"/><circle cx="432.05" cy="209.36" r="3"/><circle cx="432.86" cy="263.34" r="3"/>
<circle cx="433.66" cy="243.97" r="3"/><circle cx="434.47" cy="211.84" r="3"/><circle cx="435.28" cy="236.82" r="3"/><circle cx="436.09" cy="207.93" r="3"/><circle cx="436.9" cy="274.74" r="3"/><circle cx="437.71" cy="228.38" r="3"/><circle cx="438.52" cy="295.19" r="3"/><circle cx="439.33" cy="253.83" r="3"/>
<circle cx="440.14" cy="237.7" r="3"/><circle cx="440.94" cy="256.49" r="3"/><circle cx="441.75" cy="258.66" r="3"/><circle cx="442.56" cy="283.28" r="3"/><circle cx="443.37" cy="164.63" r="3"/><circle cx="444.18" cy="297.4" r="3"/><circle cx="444.99" cy="236.25" r="3"/><circle cx="445.8" cy="278.91" r="3"/>
<circle cx="446.61" cy="221.05" r="3"/><circle cx="447.42" cy="215.36" r="3"/><circle cx="448.23" cy="172.64" r="3"/><circle cx="449.03" cy="223.48" r="3"/><circle cx="449.84" cy="268.61" r="3"/><circle cx="450.65" cy="307.63" r="3"/><circle cx="451.46" cy="238.24" r="3"/><circle cx="452.27" cy="228.04" r="3"/>
<circle cx="453.08" cy="193.11" r="3"/><circle cx="453.89" cy="195.15" r="3"/><circle cx="454.7" cy="239.02" r="3"/><circle cx="455.51" cy="275.06" r="3"/><circle cx="456.31" cy="200.52" r="3"/><circle cx="457.12" cy="197.21" r="3"/><circle cx="457.93" cy="212.17" r="3"/><circle cx="458.74" cy="281.9" r="3"/>
<circle cx="459.55" cy="216.33" r="3"/><circle cx="460.36" cy="195.15" r="3"/><circle cx="461.17" cy="263.84" r="3"/><circle cx="461.98" cy="253.02" r="3"/><circle cx="462.79" cy="213.32" r="3"/><circle cx="463.59" cy="253.02" r="3"/><circle cx="464.4" cy="246.18" r="3"/><circle cx="465.21" cy="250" r="3"/>
<circle cx="466.02" cy="227.61" r="3"/><circle cx="466.83" cy="206.57" r="3"/><circle cx="467.64" cy="239.8" r="3"/><circle cx="468.45" cy="239.74" r="3"/><circle cx="469.26" cy="232.84" r="3"/><circle cx="470.07" cy="313.42" r="3"/><circle cx="470.88" cy="201.62" r="3"/><circle cx="471.68" cy="265.19" r="3"/>
<circle cx="472.49" cy="176.75" r="3"/><circle cx="473.3" cy="263.87" r="3"/><circle cx="474.11" cy="291.78" r="3"/><circle cx="474.92" cy="250.25" r="3"/><circle cx="475.73" cy="253.99" r="3"/><circle cx="476.54" cy="205.54" r="3"/><circle cx="477.35" cy="241.83" r="3"/><circle cx="478.16" cy="202.4" r="3"/>
<circle cx="478.96" cy="255.33" r="3"/><circle cx="479.77" cy="279.76" r="3"/><circle cx="480.58" cy="208.47" r="3"/><circle cx="481.39" cy="201.11" r="3"/><circle cx="482.2" cy="301.49" r="3"/><circle cx="483.01" cy="249.82" r="3"/><circle cx="483.82" cy="279.76" r="3"/><circle cx="484.63" cy="233.14" r="3"/>
<circle cx="485.44" cy="216.71" r="3"/><circle cx="486.25" cy="306.78" r="3"/><circle cx="487.05" cy="219.84" r="3"/><circle cx="487.86" cy="199.52" r="3"/><circle cx="488.67" cy="227.72" r="3"/><circle cx="489.48" cy="193.79" r="3"/><circle cx="490.29" cy="330.97" r="3"/><circle cx="491.1" cy="238.04" r="3"/>
<circle cx="491.91" cy="213.89" r="3"/><circle cx="492.72" cy="247.45" r="3"/><circle cx="493.53" cy="319.04" r="3"/><circle cx="494.33" cy="224.08" r="3"/><circle cx="495.14" cy="265.63" r="3"/><circle cx="495.95" cy="194.44" r="3"/><circle cx="496.76" cy="187.99" r="3"/><circle cx="497.57" cy="283.26" r="3"/>
<circle cx="498.38" cy="177.26" r="3"/><circle cx="499.19" cy="260.86" r="3"/><circle cx="500" cy="222.74" r="3"/><circle cx="500.81" cy="203.22" r="3"/><circle cx="501.62" cy="284.77" r="3"/><circle cx="502.42" cy="338.98" r="3"/><circle cx="503.23" cy="239.64" r="3"/><circle cx="504.04" cy="248.51" r="3"/>
<circle cx="504.85" cy="194.3" r="3"/><circle cx="505.66" cy="273.04" r="3"/><circle cx="506.47" cy="221.52" r="3"/><circle cx="507.28" cy="218.15" r="3"/><circle cx="508.09" cy="278.4" r="3"/><circle cx="508.9" cy="211.58" r="3"/><circle cx="509.7" cy="252.17" r="3"/><circle cx="510.51" cy="102.78" r="3"/>
<circle cx="511.32" cy="237.9" r="3"/><circle cx="512.13" cy="248.82" r="3"/><circle cx="512.94" cy="159.01" r="3"/><circle cx="513.75" cy="138.56" r="3"/><circle cx="514.56" cy="265.55" r="3"/><circle cx="515.37" cy="250.79" r="3"/><circle cx="516.18" cy="181.22" r="3"/><circle cx="516.99" cy="267.37" r="3"/>
<circle cx="517.79" cy="227.81" r="3"/><circle cx="518.6" cy="206.91" r="3"/><circle cx="519.41" cy="232" r="3"/><circle cx="520.22" cy="247.69" r="3"/><circle cx="521.03" cy="171.44" r="3"/><circle cx="521.84" cy="252.12" r="3"/><circle cx="522.65" cy="189.41" r="3"/><circle cx="523.46" cy="253.08" r="3"/>
<circle cx="524.27" cy="258.5" r="3"/><circle cx="525.07" cy="192.59" r="3"/><circle cx="525.88" cy="283.6" r="3"/><circle cx="526.69" cy="219.97" r="3"/><circle cx="527.5" cy="219.45" r="3"/><circle cx="528.31" cy="266.56" r="3"/><circle cx="529.12" cy="206.57" r="3"/><circle cx="529.93" cy="204.19" r="3"/>
<circle cx="530.74" cy="259.3" r="3"/><circle cx="531.55" cy="259.84" r="3"/><circle cx="532.36" cy="238.85" r="3"/><circle cx="533.16" cy="230.42" r="3"/><circle cx="533.97" cy="209.89" r="3"/><circle cx="534.78" cy="222.35" r="3"/><circle cx="535.59" cy="236.39" r="3"/><circle cx="536.4" cy="199.41" r="3"/>
<circle cx="537.21" cy="280.71" r="3"/><circle cx="538.02" cy="256.24" r="3"/><circle cx="538.83" cy="204.85" r="3"/><circle cx="539.64" cy="226.91" r="3"/><circle cx="540.44" cy="206.23" r="3"/><circle cx="541.25" cy="103.29" r="3"/><circle cx="542.06" cy="289.92" r="3"/><circle cx="542.87" cy="284.25" r="3"/>
<circle cx="543.68" cy="206.89" r="3"/><circle cx="544.49" cy="275.5" r="3"/><circle cx="545.3" cy="254.83" r="3"/><circle cx="546.11" cy="305.07" r="3"/><circle cx="546.92" cy="176.75" r="3"/><circle cx="547.73" cy="272.44" r="3"/><circle cx="548.53" cy="298.55" r="3"/><circle cx="549.34" cy="275.64" r="3"/>
<circle cx="550.15" cy="208.42" r="3"/><circle cx="550.96" cy="254.24" r="3"/><circle cx="551.77" cy="207.93" r="3"/><circle cx="552.58" cy="238.5" r="3"/><circle cx="553.39" cy="269.34" r="3"/><circle cx="554.2" cy="259.02" r="3"/><circle cx="555.01" cy="286.33" r="3"/><circle cx="555.81" cy="222.41" r="3"/>
<circle cx="556.62" cy="285.82" r="3"/><circle cx="557.43" cy="217.39" r="3"/><circle cx="558.24" cy="243.63" r="3"/><circle cx="559.05" cy="233.67" r="3"/><circle cx="559.86" cy="180.16" r="3"/><circle cx="560.67" cy="352.29" r="3"/><circle cx="561.48" cy="275.91" r="3"/><circle cx="562.29" cy="248.55" r="3"/>
<circle cx="563.1" cy="236.79" r="3"/><circle cx="563.9" cy="197.71" r="3"/><circle cx="564.71" cy="231.2" r="3"/><circle cx="565.52" cy="286.46" r="3"/><circle cx="566.33" cy="278.81" r="3"/><circle cx="567.14" cy="237.41" r="3"/><circle cx="567.95" cy="288.37" r="3"/><circle cx="568.76" cy="267.59" r="3"/>
<circle cx="569.57" cy="258.23" r="3"/><circle cx="570.38" cy="199.22" r="3"/><circle cx="571.18" cy="162.07" r="3"/><circle cx="571.99" cy="254.24" r="3"/><circle cx="572.8" cy="255.34" r="3"/><circle cx="573.61" cy="146.74" r="3"/><circle cx="574.42" cy="267.17" r="3"/><circle cx="575.23" cy="180.67" r="3"/>
<circle cx="576.04" cy="291.78" r="3"/><circle cx="576.85" cy="270.46" r="3"/><circle cx="577.66" cy="236.18" r="3"/><circle cx="578.47" cy="279.1" r="3"/><circle cx="579.27" cy="245.17" r="3"/><circle cx="580.08" cy="214.69" r="3"/><circle cx="580.89" cy="247.83" r="3"/><circle cx="581.7" cy="201.11" r="3"/>
<circle cx="582.51" cy="303.78" r="3"/><circle cx="583.32" cy="206.83" r="3"/><circle cx="584.13" cy="215.5" r="3"/><circle cx="584.94" cy="232.12" r="3"/><circle cx="585.75" cy="275.5" r="3"/><circle cx="586.55" cy="204.52" r="3"/><circle cx="587.36" cy="289.23" r="3"/><circle cx="588.17" cy="210.52" r="3"/>
<circle cx="588.98" cy="218.4" r="3"/><circle cx="589.79" cy="278.4" r="3"/><circle cx="590.6" cy="185.78" r="3"/><circle cx="591.41" cy="206.23" r="3"/><circle cx="592.22" cy="276.35" r="3"/><circle cx="593.03" cy="218.92" r="3"/><circle cx="593.84" cy="256.92" r="3"/><circle cx="594.64" cy="251.2" r="3"/>
<circle cx="595.45" cy="279.49" r="3"/><circle cx="596.26" cy="208.82" r="3"/><circle cx="597.07" cy="219.75" r="3"/><circle cx="597.88" cy="307.46" r="3"/><circle cx="598.69" cy="225.06" r="3"/><circle cx="599.5" cy="255.01" r="3"/><circle cx="600.31" cy="213.04" r="3"/><circle cx="601.12" cy="272.78" r="3"/>
<circle cx="601.92" cy="225.06" r="3"/><circle cx="602.73" cy="271.82" r="3"/><circle cx="603.54" cy="267.58" r="3"/><circle cx="604.35" cy="258.13" r="3"/><circle cx="605.16" cy="302.35" r="3"/><circle cx="605.97" cy="286.67" r="3"/><circle cx="606.78" cy="206.4" r="3"/><circle cx="607.59" cy="281.81" r="3"/>
<circle cx="608.4" cy="252.03" r="3"/><circle cx="609.2" cy="281.13" r="3"/><circle cx="610.01" cy="238.84" r="3"/><circle cx="610.82" cy="272.19" r="3"/><circle cx="611.63" cy="216.39" r="3"/><circle cx="612.44" cy="237.75" r="3"/><circle cx="613.25" cy="259.69" r="3"/><circle cx="614.06" cy="184.59" r="3"/>
<circle cx="614.87" cy="215.91" r="3"/><circle cx="615.68" cy="194.61" r="3"/><circle cx="616.49" cy="301.15" r="3"/><circle cx="617.29" cy="333.19" r="3"/><circle cx="618.1" cy="173.49" r="3"/><circle cx="618.91" cy="175.56" r="3"/><circle cx="619.72" cy="195.15" r="3"/><circle cx="620.53" cy="235.13" r="3"/>
<circle cx="621.34" cy="327.05" r="3"/><circle cx="622.15" cy="212.7" r="3"/><circle cx="622.96" cy="227.28" r="3"/><circle cx="623.77" cy="179.82" r="3"/><circle cx="624.57" cy="201.43" r="3"/><circle cx="625.38" cy="277.16" r="3"/><circle cx="626.19" cy="240.55" r="3"/><circle cx="627" cy="239.12" r="3"/>
<circle cx="627.81" cy="218.19" r="3"/><circle cx="628.62" cy="182.61" r="3"/><circle cx="629.43" cy="156.79" r="3"/><circle cx="630.24" cy="277.6" r="3"/><circle cx="631.05" cy="288.35" r="3"/><circle cx="631.86" cy="211.94" r="3"/><circle cx="632.66" cy="245.46" r="3"/><circle cx="633.47" cy="279.51" r="3"/>
<circle cx="634.28" cy="185.48" r="3"/><circle cx="635.09" cy="234.65" r="3"/><circle cx="635.9" cy="209.63" r="3"/><circle cx="636.71" cy="238.81" r="3"/><circle cx="637.52" cy="253.62" r="3"/><circle cx="638.33" cy="271" r="3"/><circle cx="639.14" cy="249.61" r="3"/><circle cx="639.94" cy="245.38" r="3"/>
<circle cx="640.75" cy="249.61" r="3"/><circle cx="641.56" cy="249.61" r="3"/><circle cx="642.37" cy="203.67" r="3"/><circle cx="643.18" cy="196.89" r="3"/><circle cx="643.99" cy="250.47" r="3"/><circle cx="644.8" cy="276.97" r="3"/><circle cx="645.61" cy="218.65" r="3"/><circle cx="646.42" cy="215.6" r="3"/>
<circle cx="647.23" cy="259.88" r="3"/><circle cx="648.03" cy="242.42" r="3"/><circle cx="648.84" cy="321.39" r="3"/><circle cx="649.65" cy="295.91" r="3"/><circle cx="650.46" cy="196" r="3"/><circle cx="651.27" cy="181.18" r="3"/><circle cx="652.08" cy="208.36" r="3"/><circle cx="652.89" cy="343.77" r="3"/>
<circle cx="653.7" cy="239.31" r="3"/><circle cx="654.51" cy="245.41" r="3"/><circle cx="655.31" cy="265.94" r="3"/><circle cx="656.12" cy="367.11" r="3"/><circle cx="656.93" cy="284.25" r="3"/><circle cx="657.74" cy="241.15" r="3"/><circle cx="658.55" cy="264.11" r="3"/><circle cx="659.36" cy="346.16" r="3"/>
<circle cx="660.17" cy="254.61" r="3"/><circle cx="660.98" cy="221.75" r="3"/><circle cx="661.79" cy="267.26" r="3"/><circle cx="662.6" cy="283.13" r="3"/><circle cx="663.4" cy="217.95" r="3"/><circle cx="664.21" cy="275.24" r="3"/><circle cx="665.02" cy="263.21" r="3"/><circle cx="665.83" cy="203.33" r="3"/>
<circle cx="666.64" cy="212.22" r="3"/><circle cx="667.45" cy="269.96" r="3"/><circle cx="668.26" cy="277.63" r="3"/><circle cx="669.07" cy="222.86" r="3"/><circle cx="669.88" cy="326.71" r="3"/><circle cx="670.68" cy="208.02" r="3"/><circle cx="671.49" cy="218.23" r="3"/><circle cx="672.3" cy="214.64" r="3"/>
<circle cx="673.11" cy="292.63" r="3"/><circle cx="673.92" cy="172.98" r="3"/><circle cx="674.73" cy="188.24" r="3"/><circle cx="675.54" cy="271.4" r="3"/><circle cx="676.35" cy="220.91" r="3"/><circle cx="677.16" cy="209.47" r="3"/><circle cx="677.97" cy="269.54" r="3"/><circle cx="678.77" cy="208.53" r="3"/>
<circle cx="679.58" cy="213.55" r="3"/><circle cx="680.39" cy="281.22" r="3"/><circle cx="681.2" cy="303.84" r="3"/><circle cx="682.01" cy="280.98" r="3"/><circle cx="682.82" cy="256.88" r="3"/><circle cx="683.63" cy="351.27" r="3"/><circle cx="684.44" cy="229.93" r="3"/><circle cx="685.25" cy="261.74" r="3"/>
<circle cx="686.05" cy="321.13" r="3"/><circle cx="686.86" cy="203.33" r="3"/><circle cx="687.67" cy="281.91" r="3"/><circle cx="688.48" cy="241.61" r="3"/><circle cx="689.29" cy="227.96" r="3"/><circle cx="690.1" cy="194.3" r="3"/><circle cx="690.91" cy="304.23" r="3"/><circle cx="691.72" cy="203.79" r="3"/>
<circle cx="692.53" cy="204.26" r="3"/><circle cx="693.34" cy="191.26" r="3"/><circle cx="694.14" cy="263.51" r="3"/><circle cx="694.95" cy="177.26" r="3"/><circle cx="695.76" cy="310.86" r="3"/><circle cx="696.57" cy="231.89" r="3"/><circle cx="697.38" cy="192.05" r="3"/><circle cx="698.19" cy="258.85" r="3"/>
<circle cx="699" cy="193.45" r="3"/><circle cx="699.81" cy="313.08" r="3"/><circle cx="700.62" cy="248.13" r="3"/><circle cx="701.42" cy="240.2" r="3"/><circle cx="702.23" cy="176.71" r="3"/><circle cx="703.04" cy="172.83" r="3"/><circle cx="703.85" cy="267.02" r="3"/><circle cx="704.66" cy="264.67" r="3"/>
<circle cx="705.47" cy="185.34" r="3"/><circle cx="706.28" cy="336.93" r="3"/><circle cx="707.09" cy="197.86" r="3"/><circle cx="707.9" cy="240.55" r="3"/><circle cx="708.71" cy="319.38" r="3"/><circle cx="709.51" cy="197.67" r="3"/><circle cx="710.32" cy="236.12" r="3"/><circle cx="711.13" cy="307.97" r="3"/>
<circle cx="711.94" cy="196.91" r="3"/><circle cx="712.75" cy="241.78" r="3"/><circle cx="713.56" cy="120.67" r="3"/><circle cx="714.37" cy="263.73" r="3"/><circle cx="715.18" cy="276.83" r="3"/><circle cx="715.99" cy="296.16" r="3"/><circle cx="716.79" cy="230.35" r="3"/><circle cx="717.6" cy="292.63" r="3"/>
<circle cx="718.41" cy="115.05" r="3"/><circle cx="719.22" cy="149.29" r="3"/><circle cx="720.03" cy="208.19" r="3"/><circle cx="720.84" cy="236.84" r="3"/><circle cx="721.65" cy="287.52" r="3"/><circle cx="722.46" cy="192.82" r="3"/><circle cx="723.27" cy="187.93" r="3"/><circle cx="724.08" cy="304.56" r="3"/>
<circle cx="724.88" cy="141.12" r="3"/><circle cx="725.69" cy="178.95" r="3"/><circle cx="726.5" cy="201.22" r="3"/><circle cx="727.31" cy="246.15" r="3"/><circle cx="728.12" cy="267.35" r="3"/><circle cx="728.93" cy="253.05" r="3"/><circle cx="729.74" cy="195.24" r="3"/><circle cx="730.55" cy="175.56" r="3"/>
<circle cx="731.36" cy="266.74" r="3"/><circle cx="732.16" cy="224.85" r="3"/><circle cx="732.97" cy="236.43" r="3"/><circle cx="733.78" cy="169.74" r="3"/><circle cx="734.59" cy="178.11" r="3"/><circle cx="735.4" cy="258.67" r="3"/><circle cx="736.21" cy="214.26" r="3"/><circle cx="737.02" cy="248.24" r="3"/>
<circle cx="737.83" cy="286.33" r="3"/><circle cx="738.64" cy="258.89" r="3"/><circle cx="739.45" cy="250.99" r="3"/><circle cx="740.25" cy="294.34" r="3"/><circle cx="741.06" cy="206.65" r="3"/><circle cx="741.87" cy="207.72" r="3"/><circle cx="742.68" cy="277.46" r="3"/><circle cx="743.49" cy="266.87" r="3"/>
<circle cx="744.3" cy="280.58" r="3"/><circle cx="745.11" cy="242.23" r="3"/><circle cx="745.92" cy="319.9" r="3"/><circle cx="746.73" cy="138.22" r="3"/><circle cx="747.53" cy="246.89" r="3"/><circle cx="748.34" cy="260.61" r="3"/><circle cx="749.15" cy="229.85" r="3"/><circle cx="749.96" cy="207.93" r="3"/>
<circle cx="750.77" cy="202.31" r="3"/><circle cx="751.58" cy="268.13" r="3"/><circle cx="752.39" cy="261.43" r="3"/><circle cx="753.2" cy="282.41" r="3"/><circle cx="754.01" cy="296.38" r="3"/><circle cx="754.81" cy="199.5" r="3"/><circle cx="755.62" cy="197.64" r="3"/><circle cx="756.43" cy="259.45" r="3"/>
<circle cx="757.24" cy="327.56" r="3"/><circle cx="758.05" cy="302.69" r="3"/><circle cx="758.86" cy="201.12" r="3"/><circle cx="759.67" cy="226.57" r="3"/><circle cx="760.48" cy="196" r="3"/><circle cx="761.29" cy="260.54" r="3"/><circle cx="762.1" cy="206.45" r="3"/><circle cx="762.9" cy="324.15" r="3"/>
<circle cx="763.71" cy="284.25" r="3"/><circle cx="764.52" cy="300.3" r="3"/><circle cx="765.33" cy="263.51" r="3"/><circle cx="766.14" cy="209.63" r="3"/><circle cx="766.95" cy="213.87" r="3"/><circle cx="767.76" cy="186.63" r="3"/><circle cx="768.57" cy="266.09" r="3"/><circle cx="769.38" cy="279.85" r="3"/>
<circle cx="770.18" cy="194.3" r="3"/><circle cx="770.99" cy="242.49" r="3"/><circle cx="771.8" cy="191.5" r="3"/><circle cx="772.61" cy="254.38" r="3"/><circle cx="773.42" cy="255.43" r="3"/><circle cx="774.23" cy="228.19" r="3"/><circle cx="775.04" cy="165.82" r="3"/><circle cx="775.85" cy="328.93" r="3"/>
<circle cx="776.66" cy="165.77" r="3"/><circle cx="777.47" cy="306.26" r="3"/><circle cx="778.27" cy="172.98" r="3"/><circle cx="779.08" cy="238.26" r="3"/><circle cx="779.89" cy="279" r="3"/><circle cx="780.7" cy="198.56" r="3"/><circle cx="781.51" cy="284.25" r="3"/><circle cx="782.32" cy="177.58" r="3"/>
<circle cx="783.13" cy="310.86" r="3"/><circle cx="783.94" cy="206.45" r="3"/><circle cx="784.75" cy="216.11" r="3"/><circle cx="785.55" cy="275.01" r="3"/>
</g>
</g>
<g class="trace">
<path class="l" stroke="#ff7f0e" d="M84.2,193.95L85.01,252.23L85.82,234.67L86.63,253.11L87.44,277.3L88.24,255.73L89.05,255.73L89.86,261.02L90.67,342.07L91.48,184.93L92.29,231.3L93.1,172.98L93.91,243.7L94.72,224.73L95.53,196.51L96.33,200.07L97.14,285.82L97.95,247.13L98.76,246.41L99.57,207.01L100.38,267.57L101.19,190.55L102,255.87L102.81,242.19L103.61,221.5L104.42,265L105.23,209L106.04,275.08L106.85,260.49L107.66,221.11L108.47,270.51L109.28,256.52L110.09,186.63L110.9,253.02L111.7,245.4L112.51,190.04L113.32,251.69L114.13,234.1L114.94,248.45L115.75,260.08L116.56,193.91L117.37,277.81L118.18,249.51L118.98,190.04L119.79,259.63L120.6,329.27L121.41,194.76L122.22,246.3L123.03,179.82L123.84,243.96L124.65,247.97L125.46,250.56L126.27,200L127.07,185.78L127.88,195.13L128.69,170.08L129.5,173L130.31,297.74L131.12,208.08L131.93,252.17L132.74,262.47L133.55,193.1L134.35,229.95L135.16,188.68L135.97,215.51L136.78,238.63L137.59,190.04L138.4,209.91L139.21,235.13L140.02,240.32L140.83,198.56L141.64,235.13L142.44,263.24L143.25,245.45L144.06,266.74L144.87,253.11L145.68,236.93L146.49,204.13L147.3,193.45L148.11,223.25L148.92,245.1L149.72,185.78L150.53,211.26L151.34,221.44L152.15,262.49L152.96,148.95L153.77,209L154.58,238.85L155.39,258.13L156.2,261.63L157,218.61L157.81,174.7L158.62,263.1L159.43,276.45L160.24,268.45L161.05,356.04L161.86,130.89L162.67,153.04L163.48,202.38L164.29,247.23L165.09,202.29L165.9,232.49L166.71,221.26L167.52,258.23L168.33,149.12L169.14,112.15L169.95,265L170.76,179.82L171.57,290.08L172.37,237.35L173.18,190.04L173.99,300.64L174.8,209L175.61,280.37L176.42,198.56L177.23,292.29L178.04,236.88L178.85,283.68L179.66,178.11L180.46,190.04L181.27,253.31L182.08,301.66L182.89,228.29L183.7,133.45L184.51,265.82L185.32,206.65L186.13,254.37L186.94,225.7L187.74,271L188.55,257.21L189.36,210.64L190.17,195.15L190.98,185.78L191.79,278.15L192.6,233.9L193.41,299.96L194.22,178.96L195.03,241.15L195.83,296.89L196.64,224.04L197.45,275.41L198.26,200.84L199.07,209.1L199.88,238.65L200.69,255.67L201.5,274.74L202.31,201.02L203.11,188.68L203.92,219.76L204.73,248.23L205.54,255.67L206.35,217.78L207.16,252.17L207.97,224.52L208.78,210.24L209.59,231.01L210.4,265.04L211.2,209.53L212.01,247.86L212.82,215.1L213.63,149.98L214.44,345.47L215.25,198.94L216.06,177.26L216.87,275.59L217.68,218.47L218.48,252.37L219.29,176.07L220.1,224.07L220.91,238.54L221.72,242.04L222.53,213.63L223.34,238.54L224.15,202.31L224.96,218.34L225.77,259.93L226.57,210.02L227.38,260.26L228.19,227.53L229,180.67L229.81,158.67L230.62,272.53L231.43,215.61L232.24,267.46L233.05,180.67L233.85,256.43L234.66,204.57L235.47,259.93L236.28,256.43L237.09,237.51L237.9,200.6L238.71,259.6L239.52,210.44L240.33,263.34L241.14,235.62L241.94,200.81L242.75,237.96L243.56,140.78L244.37,253.11L245.18,205.38L245.99,280.19L246.8,210.18L247.61,215.96L248.42,225.06L249.22,226.06L250.03,272.47L250.84,209L251.65,179.82L252.46,261.5L253.27,255.38L254.08,229.36L254.89,261.5L255.7,202.65L256.51,176.41L257.31,219.32L258.12,264.63L258.93,264.55L259.74,318.7L260.55,209L261.36,284.05L262.17,346.67L262.98,208.48L263.79,176.07L264.59,242.45L265.4,273.03L266.21,286.33L267.02,258.23L267.83,209L268.64,277.18L269.45,209.85L270.26,235.64L271.07,171.44L271.88,237.55L272.68,161.56L273.49,263.34L274.3,235.34L275.11,209L275.92,287.52L276.73,260.72L277.54,226.75L278.35,271.55L279.16,248.53L279.96,295.53L280.77,269.06L281.58,204.99L282.39,189.7L283.2,257.36L284.01,261.63L284.82,253.73L285.63,241.72L286.44,205.8L287.25,274.74L288.05,204.7L288.86,194.81L289.67,209.38L290.48,261.5L291.29,185.27L292.1,243.48L292.91,223.64L293.72,277.75L294.53,209L295.33,302.35L296.14,175.04L296.95,246.84L297.76,169.74L298.57,252.17L299.38,193.01L300.19,255.67L301,241.84L301.81,238.6L302.62,216.96L303.42,164.12L304.23,263.88L305.04,217.02L305.85,160.71L306.66,282.07L307.47,220.64L308.28,269.4L309.09,207.57L309.9,243.94L310.7,196.85L311.51,347.52L312.32,219.24L313.13,279L313.94,242.01L314.75,167.01L315.56,209L316.37,233L317.18,192.21L317.98,171.79L318.79,245.92L319.6,209L320.41,266.1L321.22,217.64L322.03,276.11L322.84,221.14L323.65,237.98L324.46,192.05L325.27,190.04L326.07,237.1L326.88,148.27L327.69,280.37L328.5,186.63L329.31,216.22L330.12,237.37L330.93,222.83L331.74,261.63L332.55,219.61L333.35,196.51L334.16,245.25L334.97,240.33L335.78,279.51L336.59,216.32L337.4,294.85L338.21,194.3L339.02,172.13L339.83,210.24L340.64,222.81L341.44,213.24L342.25,232.89L343.06,273.04L343.87,214.84L344.68,211.34L345.49,268.09L346.3,276L347.11,197.19L347.92,282.41L348.72,244.85L349.53,254.49L350.34,223.36L351.15,274.99L351.96,219.86L352.77,267.93L353.58,303.37L354.39,215.08L355.2,289.23L356.01,237.35L356.81,188.33L357.62,175.04L358.43,275.04L359.24,222.25L360.05,347.86L360.86,258.23L361.67,139.75L362.48,206.8L363.29,207L364.09,254.73L364.9,243.34L365.71,236.98L366.52,176.75L367.33,265L368.14,292.97L368.95,248.7L369.76,230.28L370.57,237.69L371.38,155.6L372.18,241.19L372.99,123.23L373.8,164.97L374.61,228.12L375.42,159.01L376.23,179.82L377.04,386.71L377.85,338.64L378.66,251.36L379.46,236.05L380.27,192.59L381.08,241.55L381.89,197.71L382.7,197.66L383.51,353.99L384.32,207.92L385.13,170.93L385.94,297.74L386.75,225.5L387.55,272.16L388.36,223.66L389.17,251.91L389.98,199.41L390.79,265L391.6,268.58L392.41,220.64L393.22,292.63L394.03,210.63L394.83,215.6L395.64,170.08L396.45,249.57L397.26,192.65L398.07,170.08L398.88,232.84L399.69,231.9L400.5,199.41L401.31,238.89L402.12,265L402.92,273.89L403.73,237.73L404.54,208.78L405.35,194.3L406.16,294.34L406.97,241.49L407.78,279.51L408.59,235.34L409.4,219L410.2,252.82L411.01,230.51L411.82,312.57L412.63,274.39L413.44,218.39L414.25,263.34L415.06,198.81L415.87,172.3L416.68,226.4L417.49,230.12L418.29,306.78L419.1,225.49L419.91,202.31L420.72,252.26L421.53,238.95L422.34,245.46L423.15,231.3L423.96,263.24L424.77,196.41L425.57,319.04L426.38,187.99L427.19,192.97L428,267.41L428.81,282.41L429.62,196.05L430.43,135.66L431.24,185.78L432.05,215.63L432.86,258.8L433.66,237.04L434.47,214.68L435.28,249.14L436.09,199.41L436.9,265L437.71,235.62L438.52,284.11L439.33,235.18L440.14,246.95L440.94,256.41L441.75,240.6L442.56,289.74L443.37,173.49L444.18,282.41L444.99,232.25L445.8,264.1L446.61,207.17L447.42,252.34L448.23,127.14L449.03,242.27L449.84,271.68L450.65,295.19L451.46,227.89L452.27,232.81L453.08,186.97L453.89,213.63L454.7,253.22L455.51,276.79L456.31,212.23L457.12,188.33L457.93,218.79L458.74,278.15L459.55,212.74L460.36,144.18L461.17,250.95L461.98,242.83L462.79,204.01L463.59,240.83L464.4,256.52L465.21,253.02L466.02,228.59L466.83,223.26L467.64,251.98L468.45,232.49L469.26,221L470.07,302L470.88,213.89L471.68,270.35L472.49,184.93L473.3,264.42L474.11,297.4L474.92,236L475.73,263.34L476.54,201.97L477.35,237.02L478.16,207.29L478.96,198.9L479.77,252.66L480.58,238.51L481.39,209.12L482.2,283.26L483.01,227.36L483.82,271.9L484.63,245.06L485.44,223.47L486.25,316.15L487.05,213.1L487.86,186.29L488.67,210.55L489.48,204.18L490.29,300.64L491.1,237.59L491.91,224.93L492.72,248.62L493.53,327.56L494.33,213.83L495.14,263.76L495.95,200.37L496.76,181.86L497.57,278.15L498.38,161.9L499.19,275.17L500,201.11L500.81,217.68L501.62,289.23L502.42,318.7L503.23,212.81L504.04,251.3L504.85,179.47L505.66,281.9L506.47,205.83L507.28,223.27L508.09,273.27L508.9,224.1L509.7,235.34L510.51,100.56L511.32,235.15L512.13,255.67L512.94,150.49L513.75,145.89L514.56,260.11L515.37,218.9L516.18,178.11L516.99,270.99L517.79,243.58L518.6,214.26L519.41,251.09L520.22,227.12L521.03,159.52L521.84,256.01L522.65,184.59L523.46,255.72L524.27,251.03L525.07,196.85L525.88,278.15L526.69,230.15L527.5,233.24L528.31,259.84L529.12,214.92L529.93,227.27L530.74,263.34L531.55,252.1L532.36,250.61L533.16,226L533.97,204.52L534.78,239.75L535.59,222.67L536.4,172.64L537.21,286.67L538.02,265.27L538.83,235.68L539.64,244.95L540.44,219.47L541.25,93.07L542.06,292.63L542.87,275.51L543.68,221.57L544.49,269.07L545.3,251.06L546.11,265L546.92,164.63L547.73,279L548.53,302.35L549.34,256.14L550.15,195.49L550.96,252.06L551.77,219L552.58,228.2L553.39,259.74L554.2,275.5L555.01,261.5L555.81,209.63L556.62,261.5L557.43,231.33L558.24,265.39L559.05,222.78L559.86,184.59L560.67,364.56L561.48,265.6L562.29,243.65L563.1,245.66L563.9,223.78L564.71,238.3L565.52,298.6L566.33,249.73L567.14,248.06L567.95,286.67L568.76,259.43L569.57,244.56L570.38,207.16L571.18,171.44L571.99,230.02L572.8,245.2L573.61,144.86L574.42,272.7L575.23,196.51L576.04,298.26L576.85,239.28L577.66,248.26L578.47,287.52L579.27,219.67L580.08,237.13L580.89,227.92L581.7,203.33L582.51,310.52L583.32,222.29L584.13,236.24L584.94,228.5L585.75,249.79L586.55,217.23L587.36,261.5L588.17,196.45L588.98,229.89L589.79,279.85L590.6,181.86L591.41,212.53L592.22,264.26L593.03,225.26L593.84,241.02L594.64,257.42L595.45,258.26L596.26,201.62L597.07,230.94L597.88,299.96L598.69,225.06L599.5,257.38L600.31,221.56L601.12,269.4L601.92,232.32L602.73,248.55L603.54,235.35L604.35,264.91L605.16,278.15L605.97,265L606.78,196L607.59,276.33L608.4,253.75L609.2,285.31L610.01,231.13L610.82,259.93L611.63,222.31L612.44,233.98L613.25,244.44L614.06,172.13L614.87,256.26L615.68,190.04L616.49,265L617.29,290.42L618.1,209L618.91,209L619.72,209L620.53,224.5L621.34,350.93L622.15,238.21L622.96,244.77L623.77,193.45L624.57,244.3L625.38,279L626.19,267.13L627,247.66L627.81,214.68L628.62,173L629.43,170.08L630.24,264.15L631.05,295.53L631.86,220.12L632.66,241.61L633.47,261.12L634.28,180.16L635.09,241.79L635.9,220.37L636.71,235.11L637.52,243.53L638.33,249.61L639.14,249.08L639.94,253.11L640.75,249.61L641.56,239.52L642.37,196L643.18,186.29L643.99,245.65L644.8,253.97L645.61,236.97L646.42,226.89L647.23,246.53L648.03,239.36L648.84,323.3L649.65,307.12L650.46,198.22L651.27,185.78L652.08,222.02L652.89,331.82L653.7,258.24L654.51,227.04L655.31,277.62L656.12,340.7L656.93,282.66L657.74,231.82L658.55,270.19L659.36,322.96L660.17,247.32L660.98,226.14L661.79,267.63L662.6,290.93L663.4,228.78L664.21,279.21L665.02,244.84L665.83,189.19L666.64,222.71L667.45,259.34L668.26,286.67L669.07,233.35L669.88,316.49L670.68,213.75L671.49,204.52L672.3,232.97L673.11,261.5L673.92,187.48L674.73,183.22L675.54,252.21L676.35,214.34L677.16,205.03L677.97,246.88L678.77,213.43L679.58,220.37L680.39,273.04L681.2,306.78L682.01,263.37L682.82,256.66L683.63,320.41L684.44,237.78L685.25,267.02L686.05,330.12L686.86,241.28L687.67,266.64L688.48,243.72L689.29,228.61L690.1,224.46L690.91,315.64L691.72,206.29L692.53,202.82L693.34,188.33L694.14,264.39L694.95,198.56L695.76,283.26L696.57,215.91L697.38,185.78L698.19,257.21L699,209L699.81,325.86L700.62,257.08L701.42,254.57L702.23,175.04L703.04,169.23L703.85,280.06L704.66,257.5L705.47,180.16L706.28,325.52L707.09,203.22L707.9,238.62L708.71,330.12L709.51,187.99L710.32,245.98L711.13,265L711.94,195.15L712.75,243.15L713.56,118.11L714.37,258.13L715.18,254.15L715.99,304.05L716.79,222.41L717.6,265L718.41,141.12L719.22,174.7L720.03,227.33L720.84,258.84L721.65,265L722.46,198.54L723.27,185.78L724.08,291.78L724.88,135.66L725.69,175.56L726.5,220.35L727.31,251.18L728.12,272.37L728.93,261.7L729.74,204.91L730.55,191.74L731.36,263.34L732.16,223.36L732.97,231.54L733.78,172.98L734.59,186.29L735.4,240.95L736.21,221.58L737.02,242.27L737.83,265L738.64,234.51L739.45,253.25L740.25,298.26L741.06,198.56L741.87,215.49L742.68,257.96L743.49,268.23L744.3,291.78L745.11,226.03L745.92,305.41L746.73,141.97L747.53,248.2L748.34,271.35L749.15,234.55L749.96,210.14L750.77,217.3L751.58,259.99L752.39,256.14L753.2,247.97L754.01,276.79L754.81,208.06L755.62,196L756.43,244.61L757.24,292.12L758.05,312.23L758.86,215L759.67,241.35L760.48,190.55L761.29,242.86L762.1,226.24L762.9,306.78L763.71,268.76L764.52,278.15L765.33,251.04L766.14,227.18L766.95,211.82L767.76,195.15L768.57,258.18L769.38,287.52L770.18,187.99L770.99,260.09L771.8,199.71L772.61,247.2L773.42,258.19L774.23,216.34L775.04,168.72L775.85,356.55L776.66,158.67L777.47,303.71L778.27,178.96L779.08,243.51L779.89,261.5L780.7,209L781.51,278.42L782.32,165.82L783.13,321.6L783.94,204.52L784.75,183.56L785.55,247.6"/>
<g fill="#ff7f0e">
<circle cx="84.2" cy="193.95" r="3"/><circle cx="85.01" cy="252.23" r="3"/><circle cx="85.82" cy="234.67" r="3"/><circle cx="86.63" cy="253.11" r="3"/><circle cx="87.44" cy="277.3" r="3"/><circle cx="88.24" cy="255.73" r="3"/><circle cx="89.05" cy="255.73" r="3"/><circle cx="89.86" cy="261.02" r="3"/>
<circle cx="90.67" cy="342.07" r="3"/><circle cx="91.48" cy="184.93" r="3"/><circle cx="92.29" cy="231.3" r="3"/><circle cx="93.1" cy="172.98" r="3"/><circle cx="93.91" cy="243.7" r="3"/><circle cx="94.72" cy="224.73" r="3"/><circle cx="95.53" cy="196.51" r="3"/><circle cx="96.33" cy="200.07" r="3"/>
<circle cx="97.14" cy="285.82" r="3"/><circle cx="97.95" cy="247.13" r="3"/><circle cx="98.76" cy="246.41" r="3"/><circle cx="99.57" cy="207.01" r="3"/><circle cx="100.38" cy="267.57" r="3"/><circle cx="101.19" cy="190.55" r="3"/><circle cx="102" cy="255.87" r="3"/><circle cx="102.81" cy="242.19" r="3"/>
<circle cx="103.61" cy="221.5" r="3"/><circle cx="104.42" cy="265" r="3"/><circle cx="105.23" cy="209" r="3"/><circle cx="106.04" cy="275.08" r="3"/><circle cx="106.85" cy="260.49" r="3"/><circle cx="107.66" cy="221.11" r="3"/><circle cx="108.47" cy="270.51" r="3"/><circle cx="109.28" cy="256.52" r="3"/>
<circle cx="110.09" cy="186.63" r="3"/><circle cx="110.9" cy="253.02" r="3"/><circle cx="111.7" cy="245.4" r="3"/><circle cx="112.51" cy="190.04" r="3"/><circle cx="113.32" cy="251.69" r="3"/><circle cx="114.13" cy="234.1" r="3"/><circle cx="114.94" cy="248.45" r="3"/><circle cx="115.75" cy="260.08" r="3"/>
<circle cx="116.56" cy="193.91" r="3"/><circle cx="117.37" cy="277.81" r="3"/><circle cx="118.18" cy="249.51" r="3"/><circle cx="118.98" cy="190.04" r="3"/><circle cx="119.79" cy="259.63" r="3"/><circle cx="120.6" cy="329.27" r="3"/><circle cx="121.41" cy="194.76" r="3"/><circle cx="122.22" cy="246.3" r="3"/>
<circle cx="123.03" cy="179.82" r="3"/><circle cx="123.84" cy="243.96" r="3"/><circle cx="124.65" cy="247.97" r="3"/><circle cx="125.46" cy="250.56" r="3"/><circle cx="126.27" cy="200" r="3"/><circle cx="127.07" cy="185.78" r="3"/><circle cx="127.88" cy="195.13" r="3"/><circle cx="128.69" cy="170.08" r="3"/>
<circle cx="129.5" cy="173" r="3"/><circle cx="130.31" cy="297.74" r="3"/><circle cx="131.12" cy="208.08" r="3"/><circle cx="131.93" cy="252.17" r="3"/><circle cx="132.74" cy="262.47" r="3"/><circle cx="133.55" cy="193.1" r="3"/><circle cx="134.35" cy="229.95" r="3"/><circle cx="135.16" cy="188.68" r="3"/>
<circle cx="135.97" cy="215.51" r="3"/><circle cx="136.78" cy="238.63" r="3"/><circle cx="137.59" cy="190.04" r="3"/><circle cx="138.4" cy="209.91" r="3"/><circle cx="139.21" cy="235.13" r="3"/><circle cx="140.02" cy="240.32" r="3"/><circle cx="140.83" cy="198.56" r="3"/><circle cx="141.64" cy="235.13" r="3"/>
<circle cx="142.44" cy="263.24" r="3"/><circle cx="143.25" cy="245.45" r="3"/><circle cx="144.06" cy="266.74" r="3"/><circle cx="144.87" cy="253.11" r="3"/><circle cx="145.68" cy="236.93" r="3"/><circle cx="146.49" cy="204.13" r="3"/><circle cx="147.3" cy="193.45" r="3"/><circle cx="148.11" cy="223.25" r="3"/>
<circle cx="148.92" cy="245.1" r="3"/><circle cx="149.72" cy="185.78" r="3"/><circle cx="150.53" cy="211.26" r="3"/><circle cx="151.34" cy="221.44" r="3"/><circle cx="152.15" cy="262.49" r="3"/><circle cx="152.96" cy="148.95" r="3"/><circle cx="153.77" cy="209" r="3"/><circle cx="154.58" cy="238.85" r="3"/>
<circle cx="155.39" cy="258.13" r="3"/><circle cx="156.2" cy="261.63" r="3"/><circle cx="157" cy="218.61" r="3"/><circle cx="157.81" cy="174.7" r="3"/><circle cx="158.62" cy="263.1" r="3"/><circle cx="159.43" cy="276.45" r="3"/><circle cx="160.24" cy="268.45" r="3"/><circle cx="161.05" cy="356.04" r="3"/>
<circle cx="161.86" cy="130.89" r="3"/><circle cx="162.67" cy="153.04" r="3"/><circle cx="163.48" cy="202.38" r="3"/><circle cx="164.29" cy="247.23" r="3"/><circle cx="165.09" cy="202.29" r="3"/><circle cx="165.9" cy="232.49" r="3"/><circle cx="166.71" cy="221.26" r="3"/><circle cx="167.52" cy="258.23" r="3"/>
<circle cx="168.33" cy="149.12" r="3"/><circle cx="169.14" cy="112.15" r="3"/><circle cx="169.95" cy="265" r="3"/><circle cx="170.76" cy="179.82" r="3"/><circle cx="171.57" cy="290.08" r="3"/><circle cx="172.37" cy="237.35" r="3"/><circle cx="173.18" cy="190.04" r="3"/><circle cx="173.99" cy="300.64" r="3"/>
<circle cx="174.8" cy="209" r="3"/><circle cx="175.61" cy="280.37" r="3"/><circle cx="176.42" cy="198.56" r="3"/><circle cx="177.23" cy="292.29" r="3"/><circle cx="178.04" cy="236.88" r="3"/><circle cx="178.85" cy="283.68" r="3"/><circle cx="179.66" cy="178.11" r="3"/><circle cx="180.46" cy="190.04" r="3"/>
<circle cx="181.27" cy="253.31" r="3"/><circle cx="182.08" cy="301.66" r="3"/><circle cx="182.89" cy="228.29" r="3"/><circle cx="183.7" cy="133.45" r="3"/><circle cx="184.51" cy="265.82" r="3"/><circle cx="185.32" cy="206.65" r="3"/><circle cx="186.13" cy="254.37" r="3"/><circle cx="186.94" cy="225.7" r="3"/>
<circle cx="187.74" cy="271" r="3"/><circle cx="188.55" cy="257.21" r="3"/><circle cx="189.36" cy="210.64" r="3"/><circle cx="190.17" cy="195.15" r="3"/><circle cx="190.98" cy="185.78" r="3"/><circle cx="191.79" cy="278.15" r="3"/><circle cx="192.6" cy="233.9" r="3"/><circle cx="193.41" cy="299.96" r="3"/>
<circle cx="194.22" cy="178.96" r="3"/><circle cx="195.03" cy="241.15" r="3"/><circle cx="195.83" cy="296.89" r="3"/><circle cx="196.64" cy="224.04" r="3"/><circle cx="197.45" cy="275.41" r="3"/><circle cx="198.26" cy="200.84" r="3"/><circle cx="199.07" cy="209.1" r="3"/><circle cx="199.88" cy="238.65" r="3"/>
<circle cx="200.69" cy="255.67" r="3"/><circle cx="201.5" cy="274.74" r="3"/><circle cx="202.31" cy="201.02" r="3"/><circle cx="203.11" cy="188.68" r="3"/><circle cx="203.92" cy="219.76" r="3"/><circle cx="204.73" cy="248.23" r="3"/><circle cx="205.54" cy="255.67" r="3"/><circle cx="206.35" cy="217.78" r="3"/>
<circle cx="207.16" cy="252.17" r="3"/><circle cx="207.97" cy="224.52" r="3"/><circle cx="208.78" cy="210.24" r="3"/><circle cx="209.59" cy="231.01" r="3"/><circle cx="210.4" cy="265.04" r="3"/><circle cx="211.2" cy="209.53" r="3"/><circle cx="212.01" cy="247.86" r="3"/><circle cx="212.82" cy="215.1" r="3"/>
<circle cx="213.63" cy="149.98" r="3"/><circle cx="214.44" cy="345.47" r="3"/><circle cx="215.25" cy="198.94" r="3"/><circle cx="216.06" cy="177.26" r="3"/><circle cx="216.87" cy="275.59" r="3"/><circle cx="217.68" cy="218.47" r="3"/><circle cx="218.48" cy="252.37" r="3"/><circle cx="219.29" cy="176.07" r="3"/>
<circle cx="220.1" cy="224.07" r="3"/><circle cx="220.91" cy="238.54" r="3"/><circle cx="221.72" cy="242.04" r="3"/><circle cx="222.53" cy="213.63" r="3"/><circle cx="223.34" cy="238.54" r="3"/><circle cx="224.15" cy="202.31" r="3"/><circle cx="224.96" cy="218.34" r="3"/><circle cx="225.77" cy="259.93" r="3"/>
<circle cx="226.57" cy="210.02" r="3"/><circle cx="227.38" cy="260.26" r="3"/><circle cx="228.19" cy="227.53" r="3"/><circle cx="229" cy="180.67" r="3"/><circle cx="229.81" cy="158.67" r="3"/><circle cx="230.62" cy="272.53" r="3"/><circle cx="231.43" cy="215.61" r="3"/><circle cx="232.24" cy="267.46" r="3"/>
<circle cx="233.05" cy="180.67" r="3"/><circle cx="233.85" cy="256.43" r="3"/><circle cx="234.66" cy="204.57" r="3"/><circle cx="235.47" cy="259.93" r="3"/><circle cx="236.28" cy="256.43" r="3"/><circle cx="237.09" cy="237.51" r="3"/><circle cx="237.9" cy="200.6" r="3"/><circle cx="238.71" cy="259.6" r="3"/>
<circle cx="239.52" cy="210.44" r="3"/><circle cx="240.33" cy="263.34" r="3"/><circle cx="241.14" cy="235.62" r="3"/><circle cx="241.94" cy="200.81" r="3"/><circle cx="242.75" cy="237.96" r="3"/><circle cx="243.56" cy="140.78" r="3"/><circle cx="244.37" cy="253.11" r="3"/><circle cx="245.18" cy="205.38" r="3"/>
<circle cx="245.99" cy="280.19" r="3"/><circle cx="246.8" cy="210.18" r="3"/><circle cx="247.61" cy="215.96" r="3"/><circle cx="248.42" cy="225.06" r="3"/><circle cx="249.22" cy="226.06" r="3"/><circle cx="250.03" cy="272.47" r="3"/><circle cx="250.84" cy="209" r="3"/><circle cx="251.65" cy="179.82" r="3"/>
<circle cx="252.46" cy="261.5" r="3"/><circle cx="253.27" cy="255.38" r="3"/><circle cx="254.08" cy="229.36" r="3"/><circle cx="254.89" cy="261.5" r="3"/><circle cx="255.7" cy="202.65" r="3"/><circle cx="256.51" cy="176.41" r="3"/><circle cx="257.31" cy="219.32" r="3"/><circle cx="258.12" cy="264.63" r="3"/>
<circle cx="258.93" cy="264.55" r="3"/><circle cx="259.74" cy="318.7" r="3"/><circle cx="260.55" cy="209" r="3"/><circle cx="261.36" cy="284.05" r="3"/><circle cx="262.17" cy="346.67" r="3"/><circle cx="262.98" cy="208.48" r="3"/><circle cx="263.79" cy="176.07" r="3"/><circle cx="264.59" cy="242.45" r="3"/>
<circle cx="265.4" cy="273.03" r="3"/><circle cx="266.21" cy="286.33" r="3"/><circle cx="267.02" cy="258.23" r="3"/><circle cx="267.83" cy="209" r="3"/><circle cx="268.64" cy="277.18" r="3"/><circle cx="269.45" cy="209.85" r="3"/><circle cx="270.26" cy="235.64" r="3"/><circle cx="271.07" cy="171.44" r="3"/>
<circle cx="271.88" cy="237.55" r="3"/><circle cx="272.68" cy="161.56" r="3"/><circle cx="273.49" cy="263.34" r="3"/><circle cx="274.3" cy="235.34" r="3"/><circle cx="275.11" cy="209" r="3"/><circle cx="275.92" cy="287.52" r="3"/><circle cx="276.73" cy="260.72" r="3"/><circle cx="277.54" cy="226.75" r="3"/>
<circle cx="278.35" cy="271.55" r="3"/><circle cx="279.16" cy="248.53" r="3"/><circle cx="279.96" cy="295.53" r="3"/><circle cx="280.77" cy="269.06" r="3"/><circle cx="281.58" cy="204.99" r="3"/><circle cx="282.39" cy="189.7" r="3"/><circle cx="283.2" cy="257.36" r="3"/><circle cx="284.01" cy="261.63" r="3"/>
<circle cx="284.82" cy="253.73" r="3"/><circle cx="285.63" cy="241.72" r="3"/><circle cx="286.44" cy="205.8" r="3"/><circle cx="287.25" cy="274.74" r="3"/><circle cx="288.05" cy="204.7" r="3"/><circle cx="288.86" cy="194.81" r="3"/><circle cx="289.67" cy="209.38" r="3"/><circle cx="290.48" cy="261.5" r="3"/>
<circle cx="291.29" cy="185.27" r="3"/><circle cx="292.1" cy="243.48" r="3"/><circle cx="292.91" cy="223.64" r="3"/><circle cx="293.72" cy="277.75" r="3"/><circle cx="294.53" cy="209" r="3"/><circle cx="295.33" cy="302.35" r="3"/><circle cx="296.14" cy="175.04" r="3"/><circle cx="296.95" cy="246.84" r="3"/>
<circle cx="297.76" cy="169.74" r="3"/><circle cx="298.57" cy="252.17" r="3"/><circle cx="299.38" cy="193.01" r="3"/><circle cx="300.19" cy="255.67" r="3"/><circle cx="301" cy="241.84" r="3"/><circle cx="301.81" cy="238.6" r="3"/><circle cx="302.62" cy="216.96" r="3"/><circle cx="303.42" cy="164.12" r="3"/>
<circle cx="304.23" cy="263.88" r="3"/><circle cx="305.04" cy="217.02" r="3"/><circle cx="305.85" cy="160.71" r="3"/><circle cx="306.66" cy="282.07" r="3"/><circle cx="307.47" cy="220.64" r="3"/><circle cx="308.28" cy="269.4" r="3"/><circle cx="309.09" cy="207.57" r="3"/><circle cx="309.9" cy="243.94" r="3"/>
<circle cx="310.7" cy="196.85" r="3"/><circle cx="311.51" cy="347.52" r="3"/><circle cx="312.32" cy="219.24" r="3"/><circle cx="313.13" cy="279" r="3"/><circle cx="313.94" cy="242.01" r="3"/><circle cx="314.75" cy="167.01" r="3"/><circle cx="315.56" cy="209" r="3"/><circle cx="316.37" cy="233" r="3"/>
<circle cx="317.18" cy="192.21" r="3"/><circle cx="317.98" cy="171.79" r="3"/><circle cx="318.79" cy="245.92" r="3"/><circle cx="319.6" cy="209" r="3"/><circle cx="320.41" cy="266.1" r="3"/><circle cx="321.22" cy="217.64" r="3"/><circle cx="322.03" cy="276.11" r="3"/><circle cx="322.84" cy="221.14" r="3"/>
<circle cx="323.65" cy="237.98" r="3"/><circle cx="324.46" cy="192.05" r="3"/><circle cx="325.27" cy="190.04" r="3"/><circle cx="326.07" cy="237.1" r="3"/><circle cx="326.88" cy="148.27" r="3"/><circle cx="327.69" cy="280.37" r="3"/><circle cx="328.5" cy="186.63" r="3"/><circle cx="329.31" cy="216.22" r="3"/>
<circle cx="330.12" cy="237.37" r="3"/><circle cx="330.93" cy="222.83" r="3"/><circle cx="331.74" cy="261.63" r="3"/><circle cx="332.55" cy="219.61" r="3"/><circle cx="333.35" cy="196.51" r="3"/><circle cx="334.16" cy="245.25" r="3"/><circle cx="334.97" cy="240.33" r="3"/><circle cx="335.78" cy="279.51" r="3"/>
<circle cx="336.59" cy="216.32" r="3"/><circle cx="337.4" cy="294.85" r="3"/><circle cx="338.21" cy="194.3" r="3"/><circle cx="339.02" cy="172.13" r="3"/><circle cx="339.83" cy="210.24" r="3"/><circle cx="340.64" cy="222.81" r="3"/><circle cx="341.44" cy="213.24" r="3"/><circle cx="342.25" cy="232.89" r="3"/>
<circle cx="343.06" cy="273.04" r="3"/><circle cx="343.87" cy="214.84" r="3"/><circle cx="344.68" cy="211.34" r="3"/><circle cx="345.49" cy="268.09" r="3"/><circle cx="346.3" cy="276" r="3"/><circle cx="347.11" cy="197.19" r="3"/><circle cx="347.92" cy="282.41" r="3"/><circle cx="348.72" cy="244.85" r="3"/>
<circle cx="349.53" cy="254.49" r="3"/><circle cx="350.34" cy="223.36" r="3"/><circle cx="351.15" cy="274.99" r="3"/><circle cx="351.96" cy="219.86" r="3"/><circle cx="352.77" cy="267.93" r="3"/><circle cx="353.58" cy="303.37" r="3"/><circle cx="354.39" cy="215.08" r="3"/><circle cx="355.2" cy="289.23" r="3"/>
<circle cx="356.01" cy="237.35" r="3"/><circle cx="356.81" cy="188.33" r="3"/><circle cx="357.62" cy="175.04" r="3"/><circle cx="358.43" cy="275.04" r="3"/><circle cx="359.24" cy="222.25" r="3"/><circle cx="360.05" cy="347.86" r="3"/><circle cx="360.86" cy="258.23" r="3"/><circle cx="361.67" cy="139.75" r="3"/>
<circle cx="362.48" cy="206.8" r="3"/><circle cx="363.29" cy="207" r="3"/><circle cx="364.09" cy="254.73" r="3"/><circle cx="364.9" cy="243.34" r="3"/><circle cx="365.71" cy="236.98" r="3"/><circle cx="366.52" cy="176.75" r="3"/><circle cx="367.33" cy="265" r="3"/><circle cx="368.14" cy="292.97" r="3"/>
<circle cx="368.95" cy="248.7" r="3"/><circle cx="369.76" cy="230.28" r="3"/><circle cx="370.57" cy="237.69" r="3"/><circle cx="371.38" cy="155.6" r="3"/><circle cx="372.18" cy="241.19" r="3"/><circle cx="372.99" cy="123.23" r="3"/><circle cx="373.8" cy="164.97" r="3"/><circle cx="374.61" cy="228.12" r="3"/>
<circle cx="375.42" cy="159.01" r="3"/><circle cx="376.23" cy="179.82" r="3"/><circle cx="377.04" cy="386.71" r="3"/><circle cx="377.85" cy="338.64" r="3"/><circle cx="378.66" cy="251.36" r="3"/><circle cx="379.46" cy="236.05" r="3"/><circle cx="380.27" cy="192.59" r="3"/><circle cx="381.08" cy="241.55" r="3"/>
<circle cx="381.89" cy="197.71" r="3"/><circle cx="382.7" cy="197.66" r="3"/><circle cx="383.51" cy="353.99" r="3"/><circle cx="384.32" cy="207.92" r="3"/><circle cx="385.13" cy="170.93" r="3"/><circle cx="385.94" cy="297.74" r="3"/><circle cx="386.75" cy="225.5" r="3"/><circle cx="387.55" cy="272.16" r="3"/>
<circle cx="388.36" cy="223.66" r="3"/><circle cx="389.17" cy="251.91" r="3"/><circle cx="389.98" cy="199.41" r="3"/><circle cx="390.79" cy="265" r="3"/><circle cx="391.6" cy="268.58" r="3"/><circle cx="392.41" cy="220.64" r="3"/><circle cx="393.22" cy="292.63" r="3"/><circle cx="394.03" cy="210.63" r="3"/>
<circle cx="394.83" cy="215.6" r="3"/><circle cx="395.64" cy="170.08" r="3"/><circle cx="396.45" cy="249.57" r="3"/><circle cx="397.26" cy="192.65" r="3"/><circle cx="398.07" cy="170.08" r="3"/><circle cx="398.88" cy="232.84" r="3"/><circle cx="399.69" cy="231.9" r="3"/><circle cx="400.5" cy="199.41" r="3"/>
<circle cx="401.31" cy="238.89" r="3"/><circle cx="402.12" cy="265" r="3"/><circle cx="402.92" cy="273.89" r="3"/><circle cx="403.73" cy="237.73" r="3"/><circle cx="404.54" cy="208.78" r="3"/><circle cx="405.35" cy="194.3" r="3"/><circle cx="406.16" cy="294.34" r="3"/><circle cx="406.97" cy="241.49" r="3"/>
<circle cx="407.78" cy="279.51" r="3"/><circle cx="408.59" cy="235.34" r="3"/><circle cx="409.4" cy="219" r="3"/><circle cx="410.2" cy="252.82" r="3"/><circle cx="411.01" cy="230.51" r="3"/><circle cx="411.82" cy="312.57" r="3"/><circle cx="412.63" cy="274.39" r="3"/><circle cx="413.44" cy="218.39" r="3"/>
<circle cx="414.25" cy="263.34" r="3"/><circle cx="415.06" cy="198.81" r="3"/><circle cx="415.87" cy="172.3" r="3"/><circle cx="416.68" cy="226.4" r="3"/><circle cx="417.49" cy="230.12" r="3"/><circle cx="418.29" cy="306.78" r="3"/><circle cx="419.1" cy="225.49" r="3"/><circle cx="419.91" cy="202.31" r="3"/>
<circle cx="420.72" cy="252.26" r="3"/><circle cx="421.53" cy="238.95" r="3"/><circle cx="422.34" cy="245.46" r="3"/><circle cx="423.15" cy="231.3" r="3"/><circle cx="423.96" cy="263.24" r="3"/><circle cx="424.77" cy="196.41" r="3"/><circle cx="425.57" cy="319.04" r="3"/><circle cx="426.38" cy="187.99" r="3"/>
<circle cx="427.19" cy="192.97" r="3"/><circle cx="428" cy="267.41" r="3"/><circle cx="428.81" cy="282.41" r="3"/><circle cx="429.62" cy="196.05" r="3"/><circle cx="430.43" cy="135.66" r="3"/><circle cx="431.24" cy="185.78" r="3"/><circle cx="432.05" cy="215.63" r="3"/><circle cx="432.86" cy="258.8" r="3"/>
<circle cx="433.66" cy="237.04" r="3"/><circle cx="434.47" cy="214.68" r="3"/><circle cx="435.28" cy="249.14" r="3"/><circle cx="436.09" cy="199.41" r="3"/><circle cx="436.9" cy="265" r="3"/><circle cx="437.71" cy="235.62" r="3"/><circle cx="438.52" cy="284.11" r="3"/><circle cx="439.33" cy="235.18" r="3"/>
<circle cx="440.14" cy="246.95" r="3"/><circle cx="440.94" cy="256.41" r="3"/><circle cx="441.75" cy="240.6" r="3"/><circle cx="442.56" cy="289.74" r="3"/><circle cx="443.37" cy="173.49" r="3"/><circle cx="444.18" cy="282.41" r="3"/><circle cx="444.99" cy="232.25" r="3"/><circle cx="445.8" cy="264.1" r="3"/>
<circle cx="446.61" cy="207.17" r="3"/><circle cx="447.42" cy="252.34" r="3"/><circle cx="448.23" cy="127.14" r="3"/><circle cx="449.03" cy="242.27" r="3"/><circle cx="449.84" cy="271.68" r="3"/><circle cx="450.65" cy="295.19" r="3"/><circle cx="451.46" cy="227.89" r="3"/><circle cx="452.27" cy="232.81" r="3"/>
<circle cx="453.08" cy="186.97" r="3"/><circle cx="453.89" cy="213.63" r="3"/><circle cx="454.7" cy="253.22" r="3"/><circle cx="455.51" cy="276.79" r="3"/><circle cx="456.31" cy="212.23" r="3"/><circle cx="457.12" cy="188.33" r="3"/><circle cx="457.93" cy="218.79" r="3"/><circle cx="458.74" cy="278.15" r="3"/>
<circle cx="459.55" cy="212.74" r="3"/><circle cx="460.36" cy="144.18" r="3"/><circle cx="461.17" cy="250.95" r="3"/><circle cx="461.98" cy="242.83" r="3"/><circle cx="462.79" cy="204.01" r="3"/><circle cx="463.59" cy="240.83" r="3"/><circle cx="464.4" cy="256.52" r="3"/><circle cx="465.21" cy="253.02" r="3"/>
<circle cx="466.02" cy="228.59" r="3"/><circle cx="466.83" cy="223.26" r="3"/><circle cx="467.64" cy="251.98" r="3"/><circle cx="468.45" cy="232.49" r="3"/><circle cx="469.26" cy="221" r="3"/><circle cx="470.07" cy="302" r="3"/><circle cx="470.88" cy="213.89" r="3"/><circle cx="471.68" cy="270.35" r="3"/>
<circle cx="472.49" cy="184.93" r="3"/><circle cx="473.3" cy="264.42" r="3"/><circle cx="474.11" cy="297.4" r="3"/><circle cx="474.92" cy="236" r="3"/><circle cx="475.73" cy="263.34" r="3"/><circle cx="476.54" cy="201.97" r="3"/><circle cx="477.35" cy="237.02" r="3"/><circle cx="478.16" cy="207.29" r="3"/>
<circle cx="478.96" cy="198.9" r="3"/><circle cx="479.77" cy="252.66" r="3"/><circle cx="480.58" cy="238.51" r="3"/><circle cx="481.39" cy="209.12" r="3"/><circle cx="482.2" cy="283.26" r="3"/><circle cx="483.01" cy="227.36" r="3"/><circle cx="483.82" cy="271.9" r="3"/><circle cx="484.63" cy="245.06" r="3"/>
<circle cx="485.44" cy="223.47" r="3"/><circle cx="486.25" cy="316.15" r="3"/><circle cx="487.05" cy="213.1" r="3"/><circle cx="487.86" cy="186.29" r="3"/><circle cx="488.67" cy="210.55" r="3"/><circle cx="489.48" cy="204.18" r="3"/><circle cx="490.29" cy="300.64" r="3"/><circle cx="491.1" cy="237.59" r="3"/>
<circle cx="491.91" cy="224.93" r="3"/><circle cx="492.72" cy="248.62" r="3"/><circle cx="493.53" cy="327.56" r="3"/><circle cx="494.33" cy="213.83" r="3"/><circle cx="495.14" cy="263.76" r="3"/><circle cx="495.95" cy="200.37" r="3"/><circle cx="496.76" cy="181.86" r="3"/><circle cx="497.57" cy="278.15" r="3"/>
<circle cx="498.38" cy="161.9" r="3"/><circle cx="499.19" cy="275.17" r="3"/><circle cx="500" cy="201.11" r="3"/><circle cx="500.81" cy="217.68" r="3"/><circle cx="501.62" cy="289.23" r="3"/><circle cx="502.42" cy="318.7" r="3"/><circle cx="503.23" cy="212.81" r="3"/><circle cx="504.04" cy="251.3" r="3"/>
<circle cx="504.85" cy="179.47" r="3"/><circle cx="505.66" cy="281.9" r="3"/><circle cx="506.47" cy="205.83" r="3"/><circle cx="507.28" cy="223.27" r="3"/><circle cx="508.09" cy="273.27" r="3"/><circle cx="508.9" cy="224.1" r="3"/><circle cx="509.7" cy="235.34" r="3"/><circle cx="510.51" cy="100.56" r="3"/>
<circle cx="511.32" cy="235.15" r="3"/><circle cx="512.13" cy="255.67" r="3"/><circle cx="512.94" cy="150.49" r="3"/><circle cx="513.75" cy="145.89" r="3"/><circle cx="514.56" cy="260.11" r="3"/><circle cx="515.37" cy="218.9" r="3"/><circle cx="516.18" cy="178.11" r="3"/><circle cx="516.99" cy="270.99" r="3"/>
<circle cx="517.79" cy="243.58" r="3"/><circle cx="518.6" cy="214.26" r="3"/><circle cx="519.41" cy="251.09" r="3"/><circle cx="520.22" cy="227.12" r="3"/><circle cx="521.03" cy="159.52" r="3"/><circle cx="521.84" cy="256.01" r="3"/><circle cx="522.65" cy="184.59" r="3"/><circle cx="523.46" cy="255.72" r="3"/>
<circle cx="524.27" cy="251.03" r="3"/><circle cx="525.07" cy="196.85" r="3"/><circle cx="525.88" cy="278.15" r="3"/><circle cx="526.69" cy="230.15" r="3"/><circle cx="527.5" cy="233.24" r="3"/><circle cx="528.31" cy="259.84" r="3"/><circle cx="529.12" cy="214.92" r="3"/><circle cx="529.93" cy="227.27" r="3"/>
<circle cx="530.74" cy="263.34" r="3"/><circle cx="531.55" cy="252.1" r="3"/><circle cx="532.36" cy="250.61" r="3"/><circle cx="533.16" cy="226" r="3"/><circle cx="533.97" cy="204.52" r="3"/><circle cx="534.78" cy="239.75" r="3"/><circle cx="535.59" cy="222.67" r="3"/><circle cx="536.4" cy="172.64" r="3"/>
<circle cx="537.21" cy="286.67" r="3"/><circle cx="538.02" cy="265.27" r="3"/><circle cx="538.83" cy="235.68" r="3"/><circle cx="539.64" cy="244.95" r="3"/><circle cx="540.44" cy="219.47" r="3"/><circle cx="541.25" cy="93.07" r="3"/><circle cx="542.06" cy="292.63" r="3"/><circle cx="542.87" cy="275.51" r="3"/>
<circle cx="543.68" cy="221.57" r="3"/><circle cx="544.49" cy="269.07" r="3"/><circle cx="545.3" cy="251.06" r="3"/><circle cx="546.11" cy="265" r="3"/><circle cx="546.92" cy="164.63" r="3"/><circle cx="547.73" cy="279" r="3"/><circle cx="548.53" cy="302.35" r="3"/><circle cx="549.34" cy="256.14" r="3"/>
<circle cx="550.15" cy="195.49" r="3"/><circle cx="550.96" cy="252.06" r="3"/><circle cx="551.77" cy="219" r="3"/><circle cx="552.58" cy="228.2" r="3"/><circle cx="553.39" cy="259.74" r="3"/><circle cx="554.2" cy="275.5" r="3"/><circle cx="555.01" cy="261.5" r="3"/><circle cx="555.81" cy="209.63" r="3"/>
<circle cx="556.62" cy="261.5" r="3"/><circle cx="557.43" cy="231.33" r="3"/><circle cx="558.24" cy="265.39" r="3"/><circle cx="559.05" cy="222.78" r="3"/><circle cx="559.86" cy="184.59" r="3"/><circle cx="560.67" cy="364.56" r="3"/><circle cx="561.48" cy="265.6" r="3"/><circle cx="562.29" cy="243.65" r="3"/>
<circle cx="563.1" cy="245.66" r="3"/><circle cx="563.9" cy="223.78" r="3"/><circle cx="564.71" cy="238.3" r="3"/><circle cx="565.52" cy="298.6" r="3"/><circle cx="566.33" cy="249.73" r="3"/><circle cx="567.14" cy="248.06" r="3"/><circle cx="567.95" cy="286.67" r="3"/><circle cx="568.76" cy="259.43" r="3"/>
<circle cx="569.57" cy="244.56" r="3"/><circle cx="570.38" cy="207.16" r="3"/><circle cx="571.18" cy="171.44" r="3"/><circle cx="571.99" cy="230.02" r="3"/><circle cx="572.8" cy="245.2" r="3"/><circle cx="573.61" cy="144.86" r="3"/><circle cx="574.42" cy="272.7" r="3"/><circle cx="575.23" cy="196.51" r="3"/>
<circle cx="576.04" cy="298.26" r="3"/><circle cx="576.85" cy="239.28" r="3"/><circle cx="577.66" cy="248.26" r="3"/><circle cx="578.47" cy="287.52" r="3"/><circle cx="579.27" cy="219.67" r="3"/><circle cx="580.08" cy="237.13" r="3"/><circle cx="580.89" cy="227.92" r="3"/><circle cx="581.7" cy="203.33" r="3"/>
<circle cx="582.51" cy="310.52" r="3"/><circle cx="583.32" cy="222.29" r="3"/><circle cx="584.13" cy="236.24" r="3"/><circle cx="584.94" cy="228.5" r="3"/><circle cx="585.75" cy="249.79" r="3"/><circle cx="586.55" cy="217.23" r="3"/><circle cx="587.36" cy="261.5" r="3"/><circle cx="588.17" cy="196.45" r="3"/>
<circle cx="588.98" cy="229.89" r="3"/><circle cx="589.79" cy="279.85" r="3"/><circle cx="590.6" cy="181.86" r="3"/><circle cx="591.41" cy="212.53" r="3"/><circle cx="592.22" cy="264.26" r="3"/><circle cx="593.03" cy="225.26" r="3"/><circle cx="593.84" cy="241.02" r="3"/><circle cx="594.64" cy="257.42" r="3"/>
<circle cx="595.45" cy="258.26" r="3"/><circle cx="596.26" cy="201.62" r="3"/><circle cx="597.07" cy="230.94" r="3"/><circle cx="597.88" cy="299.96" r="3"/><circle cx="598.69" cy="225.06" r="3"/><circle cx="599.5" cy="257.38" r="3"/><circle cx="600.31" cy="221.56" r="3"/><circle cx="601.12" cy="269.4" r="3"/>
<circle cx="601.92" cy="232.32" r="3"/><circle cx="602.73" cy="248.55" r="3"/><circle cx="603.54" cy="235.35" r="3"/><circle cx="604.35" cy="264.91" r="3"/><circle cx="605.16" cy="278.15" r="3"/><circle cx="605.97" cy="265" r="3"/><circle cx="606.78" cy="196" r="3"/><circle cx="607.59" cy="276.33" r="3"/>
<circle cx="608.4" cy="253.75" r="3"/><circle cx="609.2" cy="285.31" r="3"/><circle cx="610.01" cy="231.13" r="3"/><circle cx="610.82" cy="259.93" r="3"/><circle cx="611.63" cy="222.31" r="3"/><circle cx="612.44" cy="233.98" r="3"/><circle cx="613.25" cy="244.44" r="3"/><circle cx="614.06" cy="172.13" r="3"/>
<circle cx="614.87" cy="256.26" r="3"/><circle cx="615.68" cy="190.04" r="3"/><circle cx="616.49" cy="265" r="3"/><circle cx="617.29" cy="290.42" r="3"/><circle cx="618.1" cy="209" r="3"/><circle cx="618.91" cy="209" r="3"/><circle cx="619.72" cy="209" r="3"/><circle cx="620.53" cy="224.5" r="3"/>
<circle cx="621.34" cy="350.93" r="3"/><circle cx="622.15" cy="238.21" r="3"/><circle cx="622.96" cy="244.77" r="3"/><circle cx="623.77" cy="193.45" r="3"/><circle cx="624.57" cy="244.3" r="3"/><circle cx="625.38" cy="279" r="3"/><circle cx="626.19" cy="267.13" r="3"/><circle cx="627" cy="247.66" r="3"/>
<circle cx="627.81" cy="214.68" r="3"/><circle cx="628.62" cy="173" r="3"/><circle cx="629.43" cy="170.08" r="3"/><circle cx="630.24" cy="264.15" r="3"/><circle cx="631.05" cy="295.53" r="3"/><circle cx="631.86" cy="220.12" r="3"/><circle cx="632.66" cy="241.61" r="3"/><circle cx="633.47" cy="261.12" r="3"/>
<circle cx="634.28" cy="180.16" r="3"/><circle cx="635.09" cy="241.79" r="3"/><circle cx="635.9" cy="220.37" r="3"/><circle cx="636.71" cy="235.11" r="3"/><circle cx="637.52" cy="243.53" r="3"/><circle cx="638.33" cy="249.61" r="3"/><circle cx="639.14" cy="249.08" r="3"/><circle cx="639.94" cy="253.11" r="3"/>
<circle cx="640.75" cy="249.61" r="3"/><circle cx="641.56" cy="239.52" r="3"/><circle cx="642.37" cy="196" r="3"/><circle cx="643.18" cy="186.29" r="3"/><circle cx="643.99" cy="245.65" r="3"/><circle cx="644.8" cy="253.97" r="3"/><circle cx="645.61" cy="236.97" r="3"/><circle cx="646.42" cy="226.89" r="3"/>
<circle cx="647.23" cy="246.53" r="3"/><circle cx="648.03" cy="239.36" r="3"/><circle cx="648.84" cy="323.3" r="3"/><circle cx="649.65" cy="307.12" r="3"/><circle cx="650.46" cy="198.22" r="3"/><circle cx="651.27" cy="185.78" r="3"/><circle cx="652.08" cy="222.02" r="3"/><circle cx="652.89" cy="331.82" r="3"/>
<circle cx="653.7" cy="258.24" r="3"/><circle cx="654.51" cy="227.04" r="3"/><circle cx="655.31" cy="277.62" r="3"/><circle cx="656.12" cy="340.7" r="3"/><circle cx="656.93" cy="282.66" r="3"/><circle cx="657.74" cy="231.82" r="3"/><circle cx="658.55" cy="270.19" r="3"/><circle cx="659.36" cy="322.96" r="3"/>
<circle cx="660.17" cy="247.32" r="3"/><circle cx="660.98" cy="226.14" r="3"/><circle cx="661.79" cy="267.63" r="3"/><circle cx="662.6" cy="290.93" r="3"/><circle cx="663.4" cy="228.78" r="3"/><circle cx="664.21" cy="279.21" r="3"/><circle cx="665.02" cy="244.84" r="3"/><circle cx="665.83" cy="189.19" r="3"/>
<circle cx="666.64" cy="222.71" r="3"/><circle cx="667.45" cy="259.34" r="3"/><circle cx="668.26" cy="286.67" r="3"/><circle cx="669.07" cy="233.35" r="3"/><circle cx="669.88" cy="316.49" r="3"/><circle cx="670.68" cy="213.75" r="3"/><circle cx="671.49" cy="204.52" r="3"/><circle cx="672.3" cy="232.97" r="3"/>
<circle cx="673.11" cy="261.5" r="3"/><circle cx="673.92" cy="187.48" r="3"/><circle cx="674.73" cy="183.22" r="3"/><circle cx="675.54" cy="252.21" r="3"/><circle cx="676.35" cy="214.34" r="3"/><circle cx="677.16" cy="205.03" r="3"/><circle cx="677.97" cy="246.88" r="3"/><circle cx="678.77" cy="213.43" r="3"/>
<circle cx="679.58" cy="220.37" r="3"/><circle cx="680.39" cy="273.04" r="3"/><circle cx="681.2" cy="306.78" r="3"/><circle cx="682.01" cy="263.37" r="3"/><circle cx="682.82" cy="256.66" r="3"/><circle cx="683.63" cy="320.41" r="3"/><circle cx="684.44" cy="237.78" r="3"/><circle cx="685.25" cy="267.02" r="3"/>
<circle cx="686.05" cy="330.12" r="3"/><circle cx="686.86" cy="241.28" r="3"/><circle cx="687.67" cy="266.64" r="3"/><circle cx="688.48" cy="243.72" r="3"/><circle cx="689.29" cy="228.61" r="3"/><circle cx="690.1" cy="224.46" r="3"/><circle cx="690.91" cy="315.64" r="3"/><circle cx="691.72" cy="206.29" r="3"/>
<circle cx="692.53" cy="202.82" r="3"/><circle cx="693.34" cy="188.33" r="3"/><circle cx="694.14" cy="264.39" r="3"/><circle cx="694.95" cy="198.56" r="3"/><circle cx="695.76" cy="283.26" r="3"/><circle cx="696.57" cy="215.91" r="3"/><circle cx="697.38" cy="185.78" r="3"/><circle cx="698.19" cy="257.21" r="3"/>
<circle cx="699" cy="209" r="3"/><circle cx="699.81" cy="325.86" r="3"/><circle cx="700.62" cy="257.08" r="3"/><circle cx="701.42" cy="254.57" r="3"/><circle cx="702.23" cy="175.04" r="3"/><circle cx="703.04" cy="169.23" r="3"/><circle cx="703.85" cy="280.06" r="3"/><circle cx="704.66" cy="257.5" r="3"/>
<circle cx="705.47" cy="180.16" r="3"/><circle cx="706.28" cy="325.52" r="3"/><circle cx="707.09" cy="203.22" r="3"/><circle cx="707.9" cy="238.62" r="3"/><circle cx="708.71" cy="330.12" r="3"/><circle cx="709.51" cy="187.99" r="3"/><circle cx="710.32" cy="245.98" r="3"/><circle cx="711.13" cy="265" r="3"/>
<circle cx="711.94" cy="195.15" r="3"/><circle cx="712.75" cy="243.15" r="3"/><circle cx="713.56" cy="118.11" r="3"/><circle cx="714.37" cy="258.13" r="3"/><circle cx="715.18" cy="254.15" r="3"/><circle cx="715.99" cy="304.05" r="3"/><circle cx="716.79" cy="222.41" r="3"/><circle cx="717.6" cy="265" r="3"/>
<circle cx="718.41" cy="141.12" r="3"/><circle cx="719.22" cy="174.7" r="3"/><circle cx="720.03" cy="227.33" r="3"/><circle cx="720.84" cy="258.84" r="3"/><circle cx="721.65" cy="265" r="3"/><circle cx="722.46" cy="198.54" r="3"/><circle cx="723.27" cy="185.78" r="3"/><circle cx="724.08" cy="291.78" r="3"/>
<circle cx="724.88" cy="135.66" r="3"/><circle cx="725.69" cy="175.56" r="3"/><circle cx="726.5" cy="220.35" r="3"/><circle cx="727.31" cy="251.18" r="3"/><circle cx="728.12" cy="272.37" r="3"/><circle cx="728.93" cy="261.7" r="3"/><circle cx="729.74" cy="204.91" r="3"/><circle cx="730.55" cy="191.74" r="3"/>
<circle cx="731.36" cy="263.34" r="3"/><circle cx="732.16" cy="223.36" r="3"/><circle cx="732.97" cy="231.54" r="3"/><circle cx="733.78" cy="172.98" r="3"/><circle cx="734.59" cy="186.29" r="3"/><circle cx="735.4" cy="240.95" r="3"/><circle cx="736.21" cy="221.58" r="3"/><circle cx="737.02" cy="242.27" r="3"/>
<circle cx="737.83" cy="265" r="3"/><circle cx="738.64" cy="234.51" r="3"/><circle cx="739.45" cy="253.25" r="3"/><circle cx="740.25" cy="298.26" r="3"/><circle cx="741.06" cy="198.56" r="3"/><circle cx="741.87" cy="215.49" r="3"/><circle cx="742.68" cy="257.96" r="3"/><circle cx="743.49" cy="268.23" r="3"/>
<circle cx="744.3" cy="291.78" r="3"/><circle cx="745.11" cy="226.03" r="3"/><circle cx="745.92" cy="305.41" r="3"/><circle cx="746.73" cy="141.97" r="3"/><circle cx="747.53" cy="248.2" r="3"/><circle cx="748.34" cy="271.35" r="3"/><circle cx="749.15" cy="234.55" r="3"/><circle cx="749.96" cy="210.14" r="3"/>
<circle cx="750.77" cy="217.3" r="3"/><circle cx="751.58" cy="259.99" r="3"/><circle cx="752.39" cy="256.14" r="3"/><circle cx="753.2" cy="247.97" r="3"/><circle cx="754.01" cy="276.79" r="3"/><circle cx="754.81" cy="208.06" r="3"/><circle cx="755.62" cy="196" r="3"/><circle cx="756.43" cy="244.61" r="3"/>
<circle cx="757.24" cy="292.12" r="3"/><circle cx="758.05" cy="312.23" r="3"/><circle cx="758.86" cy="215" r="3"/><circle cx="759.67" cy="241.35" r="3"/><circle cx="760.48" cy="190.55" r="3"/><circle cx="761.29" cy="242.86" r="3"/><circle cx="762.1" cy="226.24" r="3"/><circle cx="762.9" cy="306.78" r="3"/>
<circle cx="763.71" cy="268.76" r="3"/><circle cx="764.52" cy="278.15" r="3"/><circle cx="765.33" cy="251.04" r="3"/><circle cx="766.14" cy="227.18" r="3"/><circle cx="766.95" cy="211.82" r="3"/><circle cx="767.76" cy="195.15" r="3"/><circle cx="768.57" cy="258.18" r="3"/><circle cx="769.38" cy="287.52" r="3"/>
<circle cx="770.18" cy="187.99" r="3"/><circle cx="770.99" cy="260.09" r="3"/><circle cx="771.8" cy="199.71" r="3"/><circle cx="772.61" cy="247.2" r="3"/><circle cx="773.42" cy="258.19" r="3"/><circle cx="774.23" cy="216.34" r="3"/><circle cx="775.04" cy="168.72" r="3"/><circle cx="775.85" cy="356.55" r="3"/>
<circle cx="776.66" cy="158.67" r="3"/><circle cx="777.47" cy="303.71" r="3"/><circle cx="778.27" cy="178.96" r="3"/><circle cx="779.08" cy="243.51" r="3"/><circle cx="779.89" cy="261.5" r="3"/><circle cx="780.7" cy="209" r="3"/><circle cx="781.51" cy="278.42" r="3"/><circle cx="782.32" cy="165.82" r="3"/>
<circle cx="783.13" cy="321.6" r="3"/><circle cx="783.94" cy="204.52" r="3"/><circle cx="784.75" cy="183.56" r="3"/><circle cx="785.55" cy="247.6" r="3"/>
</g>
</g>
<g class="xt">
<text transform="translate(79.96,428.4) rotate(45)">2017-01-03</text>
<text transform="translate(94.52,428.4) rotate(45)">2017-02-03</text>
<text transform="translate(109.08,428.4) rotate(45)">2017-03-01</text>
<text transform="translate(123.64,428.4) rotate(45)">2017-03-27</text>
<text transform="translate(138.2,428.4) rotate(45)">2017-04-24</text>
<text transform="translate(152.76,428.4) rotate(45)">2017-05-19</text>
<text transform="translate(167.33,428.4) rotate(45)">2017-06-16</text>
<text transform="translate(181.89,428.4) rotate(45)">2017-07-12</text>
<text transform="translate(196.45,428.4) rotate(45)">2017-08-07</text>
<text transform="translate(211.01,428.4) rotate(45)">2017-08-31</text>
<text transform="translate(225.57,428.4) rotate(45)">2017-09-26</text>
<text transform="translate(240.13,428.4) rotate(45)">2017-10-27</text>
<text transform="translate(254.69,428.4) rotate(45)">2017-11-22</text>
<text transform="translate(269.25,428.4) rotate(45)">2017-12-18</text>
<text transform="translate(283.81,428.4) rotate(45)">2018-01-12</text>
<text transform="translate(298.38,428.4) rotate(45)">2018-02-07</text>
<text transform="translate(312.94,428.4) rotate(45)">2018-03-12</text>
<text transform="translate(327.5,428.4) rotate(45)">2018-04-09</text>
<text transform="translate(342.06,428.4) rotate(45)">2018-05-07</text>
<text transform="translate(356.62,428.4) rotate(45)">2018-05-31</text>
<text transform="translate(371.18,428.4) rotate(45)">2018-06-27</text>
<text transform="translate(385.74,428.4) rotate(45)">2018-07-23</text>
<text transform="translate(400.3,428.4) rotate(45)">2018-08-16</text>
<text transform="translate(414.86,428.4) rotate(45)">2018-09-11</text>
<text transform="translate(429.42,428.4) rotate(45)">2018-10-15</text>
<text transform="translate(443.99,428.4) rotate(45)">2018-11-08</text>
<text transform="translate(458.55,428.4) rotate(45)">2018-12-04</text>
<text transform="translate(473.11,428.4) rotate(45)">2018-12-28</text>
<text transform="translate(487.67,428.4) rotate(45)">2019-01-25</text>
<text transform="translate(502.23,428.4) rotate(45)">2019-02-27</text>
<text transform="translate(516.79,428.4) rotate(45)">2019-03-25</text>
<text transform="translate(531.35,428.4) rotate(45)">2019-04-19</text>
<text transform="translate(545.91,428.4) rotate(45)">2019-05-23</text>
<text transform="translate(560.47,428.4) rotate(45)">2019-06-19</text>
<text transform="translate(575.03,428.4) rotate(45)">2019-07-15</text>
<text transform="translate(589.6,428.4) rotate(45)">2019-08-08</text>
<text transform="translate(604.16,428.4) rotate(45)">2019-09-03</text>
<text transform="translate(618.72,428.4) rotate(45)">2019-09-30</text>
<text transform="translate(633.28,428.4) rotate(45)">2019-10-31</text>
<text transform="translate(647.84,428.4) rotate(45)">2019-11-26</text>
<text transform="translate(662.4,428.4) rotate(45)">2019-12-20</text>
<text transform="translate(676.96,428.4) rotate(45)">2020-01-16</text>
<text transform="translate(691.52,428.4) rotate(45)">2020-02-19</text>
<text transform="translate(706.08,428.4) rotate(45)">2020-03-16</text>
<text transform="translate(720.64,428.4) rotate(45)">2020-04-10</text>
<text transform="translate(735.21,428.4) rotate(45)">2020-05-11</text>
<text transform="translate(749.77,428.4) rotate(45)">2020-06-04</text>
<text transform="translate(764.33,428.4) rotate(45)">2020-07-02</text>
<text transform="translate(778.89,428.4) rotate(45)">2020-07-28</text>
</g>
<g class="yt">
<text x="40.56" y="118.7">0.4</text>
<text x="40.56" y="188.7">0.2</text>
<text x="40.56" y="258.7">0</text>
<text x="40.56" y="328.7">−0.2</text>
<text x="40.56" y="398.7">−0.4</text>
</g>
<text class="ti" x="418" y="22.4">Score <tspan class="ser" x="472.4" textLength="7.6" lengthAdjust="spacingAndGlyphs">I</tspan><tspan x="479.1">C</tspan></text>
<g class="lg">
<path d="M849.3,86.5 h30.4" stroke="#1f77b4" stroke-width="2" fill="none"/>
<circle cx="864.4" cy="86.5" r="3" fill="#1f77b4"/>
<text x="884.9" y="90.7">ic</text>
<path d="M849.3,105.5 h30.4" stroke="#ff7f0e" stroke-width="2" fill="none"/>
<circle cx="864.4" cy="105.5" r="3" fill="#ff7f0e"/>
<text x="884.9" y="109.7">rank_ic</text>
</g>
</svg>
</body>
</html>
